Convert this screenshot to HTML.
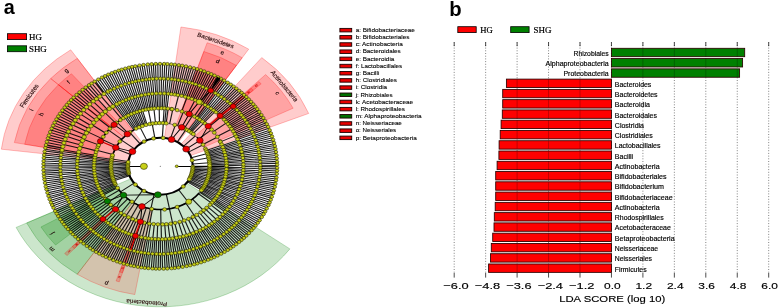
<!DOCTYPE html>
<html><head><meta charset="utf-8"><style>
html,body{margin:0;padding:0;background:#fff;width:778px;height:308px;overflow:hidden}
svg{display:block;will-change:transform}
text{font-family:"Liberation Sans",sans-serif}
.lt{stroke:#000;stroke-width:0.1px}
.lt2{fill:#000;stroke:#000;stroke-width:0.15px}
.serif{font-family:"Liberation Serif",serif;stroke:#000;stroke-width:0.2px}
</style></head><body>
<svg width="778" height="308" viewBox="0 0 778 308">
<defs><filter id="bl" x="-5%" y="-5%" width="110%" height="110%"><feGaussianBlur stdDeviation="0.2"/></filter></defs>
<rect width="778" height="308" fill="#fff"/>
<text x="3.8" y="14.2" font-size="21" font-weight="bold" textLength="11" lengthAdjust="spacingAndGlyphs">a</text>
<text x="449.3" y="15.7" font-size="20.5" font-weight="bold" textLength="12.4" lengthAdjust="spacingAndGlyphs">b</text>
<rect x="7.4" y="33.7" width="19.2" height="5.9" fill="#ff0000" stroke="#000" stroke-width="0.8"/>
<text class="serif" x="29.0" y="39.6" font-size="8.6" textLength="12.8" lengthAdjust="spacingAndGlyphs">HG</text>
<rect x="7.4" y="45.8" width="19.2" height="5.9" fill="#008000" stroke="#000" stroke-width="0.8"/>
<text class="serif" x="29.0" y="51.7" font-size="8.6" textLength="17.8" lengthAdjust="spacingAndGlyphs">SHG</text>
<rect x="457.8" y="26.7" width="18.4" height="5.9" fill="#ff0000" stroke="#000" stroke-width="0.8"/>
<text class="serif" x="480.3" y="32.7" font-size="8.6" textLength="12.5" lengthAdjust="spacingAndGlyphs">HG</text>
<rect x="510.7" y="26.7" width="18.4" height="5.9" fill="#008000" stroke="#000" stroke-width="0.8"/>
<text class="serif" x="533.5" y="32.7" font-size="8.6" textLength="18" lengthAdjust="spacingAndGlyphs">SHG</text>
<g transform="translate(160.3,166.3) scale(1.14,1)">
<path d="M-28.29,-3.47L-139.45,-17.12A140.5,140.5 0 0 1 -78.57,-116.48L-15.94,-23.63A28.5,28.5 0 0 0 -28.29,-3.47Z" fill="#ff0000" fill-opacity="0.2" stroke="#ff0000" stroke-opacity="0.5" stroke-width="0.45"/>
<path d="M-42.57,-7.89L-128.02,-23.73A130.2,130.2 0 0 1 -96.15,-87.79L-31.98,-29.20A43.3,43.3 0 0 0 -42.57,-7.89Z" fill="#ff0000" fill-opacity="0.2" stroke="#ff0000" stroke-opacity="0.5" stroke-width="0.45"/>
<path d="M-57.13,-10.59L-118.97,-22.05A121.0,121.0 0 0 1 -89.35,-81.59L-42.90,-39.18A58.1,58.1 0 0 0 -57.13,-10.59Z" fill="#ff0000" fill-opacity="0.2" stroke="#ff0000" stroke-opacity="0.5" stroke-width="0.45"/>
<path d="M-31.98,-29.20L-96.15,-87.79A130.2,130.2 0 0 1 -72.81,-107.94L-24.21,-35.90A43.3,43.3 0 0 0 -31.98,-29.20Z" fill="#ff0000" fill-opacity="0.2" stroke="#ff0000" stroke-opacity="0.5" stroke-width="0.45"/>
<path d="M-42.90,-39.18L-89.35,-81.59A121.0,121.0 0 0 1 -77.94,-92.56L-37.42,-44.44A58.1,58.1 0 0 0 -42.90,-39.18Z" fill="#ff0000" fill-opacity="0.2" stroke="#ff0000" stroke-opacity="0.5" stroke-width="0.45"/>
<path d="M3.67,-28.26L18.10,-139.33A140.5,140.5 0 0 1 77.55,-117.16L15.73,-23.77A28.5,28.5 0 0 0 3.67,-28.26Z" fill="#ff0000" fill-opacity="0.2" stroke="#ff0000" stroke-opacity="0.5" stroke-width="0.45"/>
<path d="M13.67,-41.09L41.10,-123.54A130.2,130.2 0 0 1 71.86,-108.57L23.90,-36.11A43.3,43.3 0 0 0 13.67,-41.09Z" fill="#ff0000" fill-opacity="0.2" stroke="#ff0000" stroke-opacity="0.5" stroke-width="0.45"/>
<path d="M18.34,-55.13L38.19,-114.81A121.0,121.0 0 0 1 66.78,-100.90L32.07,-48.45A58.1,58.1 0 0 0 18.34,-55.13Z" fill="#ff0000" fill-opacity="0.2" stroke="#ff0000" stroke-opacity="0.5" stroke-width="0.45"/>
<path d="M41.17,-77.43L48.12,-90.50A102.5,102.5 0 0 1 55.07,-86.45L47.12,-73.97A87.7,87.7 0 0 0 41.17,-77.43Z" fill="#ff0000" fill-opacity="0.2" stroke="#ff0000" stroke-opacity="0.5" stroke-width="0.45"/>
<path d="M18.05,-22.05L88.99,-108.72A140.5,140.5 0 0 1 130.18,-52.86L26.41,-10.72A28.5,28.5 0 0 0 18.05,-22.05Z" fill="#ff0000" fill-opacity="0.2" stroke="#ff0000" stroke-opacity="0.5" stroke-width="0.45"/>
<path d="M30.72,-30.51L92.39,-91.74A130.2,130.2 0 0 1 116.52,-58.09L38.75,-19.32A43.3,43.3 0 0 0 30.72,-30.51Z" fill="#ff0000" fill-opacity="0.2" stroke="#ff0000" stroke-opacity="0.5" stroke-width="0.45"/>
<path d="M41.51,-40.65L86.45,-84.66A121.0,121.0 0 0 1 88.49,-82.52L42.49,-39.62A58.1,58.1 0 0 0 41.51,-40.65Z" fill="#ff0000" fill-opacity="0.2" stroke="#ff0000" stroke-opacity="0.5" stroke-width="0.45"/>
<path d="M52.09,-51.01L79.66,-78.01A111.5,111.5 0 0 1 81.55,-76.04L53.32,-49.72A72.9,72.9 0 0 0 52.09,-51.01Z" fill="#ff0000" fill-opacity="0.2" stroke="#ff0000" stroke-opacity="0.5" stroke-width="0.45"/>
<path d="M62.66,-61.36L73.23,-71.72A102.5,102.5 0 0 1 74.96,-69.90L64.14,-59.81A87.7,87.7 0 0 0 62.66,-61.36Z" fill="#ff0000" fill-opacity="0.2" stroke="#ff0000" stroke-opacity="0.5" stroke-width="0.45"/>
<path d="M23.06,16.75L113.67,82.58A140.5,140.5 0 0 1 -126.49,61.15L-25.66,12.40A28.5,28.5 0 0 0 23.06,16.75Z" fill="#008000" fill-opacity="0.2" stroke="#008000" stroke-opacity="0.5" stroke-width="0.45"/>
<path d="M-24.21,35.90L-72.81,107.94A130.2,130.2 0 0 1 -117.22,56.67L-38.98,18.85A43.3,43.3 0 0 0 -24.21,35.90Z" fill="#008000" fill-opacity="0.2" stroke="#008000" stroke-opacity="0.5" stroke-width="0.45"/>
<path d="M-44.11,37.81L-91.87,78.74A121.0,121.0 0 0 1 -104.68,60.68L-50.27,29.14A58.1,58.1 0 0 0 -44.11,37.81Z" fill="#008000" fill-opacity="0.2" stroke="#008000" stroke-opacity="0.5" stroke-width="0.45"/>
<path d="M-39.25,42.84L-81.75,89.21A121.0,121.0 0 0 1 -83.90,87.19L-40.29,41.86A58.1,58.1 0 0 0 -39.25,42.84Z" fill="#ff0000" fill-opacity="0.2" stroke="#ff0000" stroke-opacity="0.5" stroke-width="0.45"/>
<path d="M-49.25,53.75L-75.33,82.21A111.5,111.5 0 0 1 -77.31,80.34L-50.55,52.53A72.9,72.9 0 0 0 -49.25,53.75Z" fill="#ff0000" fill-opacity="0.2" stroke="#ff0000" stroke-opacity="0.5" stroke-width="0.45"/>
<path d="M-7.44,42.66L-22.39,128.26A130.2,130.2 0 0 1 -72.81,107.94L-24.21,35.90A43.3,43.3 0 0 0 -7.44,42.66Z" fill="#ff0000" fill-opacity="0.15" stroke="#ff0000" stroke-opacity="0.5" stroke-width="0.45"/>
<path d="M-17.28,55.47L-35.98,115.53A121.0,121.0 0 0 1 -38.79,114.61L-18.63,55.03A58.1,58.1 0 0 0 -17.28,55.47Z" fill="#ff0000" fill-opacity="0.2" stroke="#ff0000" stroke-opacity="0.5" stroke-width="0.45"/>
<path d="M-21.68,69.60L-33.16,106.46A111.5,111.5 0 0 1 -35.75,105.61L-23.37,69.05A72.9,72.9 0 0 0 -21.68,69.60Z" fill="#ff0000" fill-opacity="0.2" stroke="#ff0000" stroke-opacity="0.5" stroke-width="0.45"/>
<g filter="url(#bl)">
<path d="M87.70,0.54L102.50,0.58M87.67,2.21L102.47,2.57M87.62,3.82L102.40,4.63M87.52,5.55L102.28,6.66M87.40,7.26L102.14,8.64M87.24,9.02L101.95,10.57M87.04,10.75L101.71,12.70M86.80,12.50L101.46,14.57M86.53,14.31L101.13,16.69M86.22,16.02L100.81,18.56M85.91,17.61L100.44,20.46M85.59,19.11L100.01,22.46M85.20,20.80L99.56,24.38M84.75,22.54L99.03,26.46M84.27,24.29L98.50,28.34M83.80,25.87L97.94,30.22M83.34,27.31L97.35,32.07M82.72,29.14L96.70,34.00M82.16,30.68L96.00,35.92M81.52,32.35L95.27,37.82M80.85,33.98L94.53,39.62M80.21,35.47L93.71,41.54M79.47,37.09L92.89,43.34M78.68,38.73L92.00,45.20M77.92,40.24L91.15,46.88M77.22,41.58L90.23,48.63M76.37,43.11L89.20,50.49M75.56,44.52L88.22,52.18M74.54,46.21L87.17,53.92M73.61,47.67L86.11,55.60M72.72,49.02L85.03,57.23M71.74,50.44L83.87,58.93M70.71,51.88L82.72,60.53M69.70,53.23L81.46,62.22M68.76,54.44L80.26,63.75M67.56,55.92L78.99,65.32M66.39,57.31L77.66,66.89M65.42,58.40L76.44,68.29M64.30,59.64L75.03,69.83M63.12,60.89L73.68,71.25M61.98,62.05L72.33,72.63M60.66,63.34L70.80,74.12M59.42,64.51L69.41,75.42M58.13,65.66L67.83,76.84M56.79,66.83L66.38,78.10M55.35,68.03L64.78,79.44M54.14,68.99L63.21,80.69M52.82,70.01L61.70,81.85M51.23,71.18L60.01,83.10M50.13,71.96L58.49,84.17M48.69,72.94L56.82,85.31M47.12,73.96L55.10,86.43M45.85,74.76L53.44,87.47M44.26,75.71L51.69,88.51M42.60,76.66L49.93,89.52M41.19,77.43L48.15,90.49M39.64,78.23L46.38,91.41M38.12,78.98L44.69,92.25M36.47,79.76L42.74,93.16M35.03,80.40L40.91,93.98M33.60,81.01L39.14,94.73M31.99,81.66L37.24,95.50M30.43,82.25L35.47,96.17M28.77,82.85L33.57,96.85M27.26,83.36L31.69,97.48M25.58,83.89L29.76,98.09M23.92,84.38L27.79,98.66M22.01,84.89L25.76,99.21M20.57,85.25L23.96,99.66M18.83,85.65L21.97,100.12M17.05,86.03L20.05,100.52M15.33,86.35L17.91,100.92M13.84,86.60L16.03,101.24M12.13,86.86L14.13,101.52M10.26,87.10L12.11,101.78M8.82,87.26L10.14,102.00M6.82,87.43L7.98,102.19M5.24,87.54L6.14,102.32M3.56,87.63L4.17,102.42M1.58,87.69L1.97,102.48M0.10,87.70L0.03,102.50M-1.53,87.69L-1.91,102.48M-3.43,87.63L-3.99,102.42M-5.08,87.55L-6.00,102.32M-6.84,87.43L-7.88,102.20M-8.69,87.27L-10.03,102.01M-10.35,87.09L-11.99,101.80M-11.86,86.89L-13.96,101.54M-13.56,86.65L-15.90,101.26M-15.07,86.40L-17.78,100.95M-16.87,86.06L-19.80,100.57M-18.83,85.66L-21.84,100.15M-20.45,85.28L-23.75,99.71M-22.21,84.84L-25.80,99.20M-23.54,84.48L-27.61,98.71M-25.16,84.01L-29.51,98.16M-26.92,83.47L-31.42,97.57M-28.72,82.86L-33.45,96.89M-30.21,82.33L-35.26,96.24M-31.70,81.77L-37.19,95.51M-33.51,81.05L-39.03,94.78M-35.06,80.39L-40.90,93.99M-36.42,79.78L-42.67,93.20M-38.06,79.01L-44.54,92.32M-39.78,78.16L-46.34,91.43M-41.08,77.48L-48.04,90.54M-42.76,76.57L-49.90,89.53M-43.97,75.88L-51.51,88.62M-45.65,74.88L-53.23,87.60M-47.00,74.04L-55.04,86.47M-48.65,72.97L-56.72,85.38M-49.89,72.13L-58.35,84.27M-51.22,71.19L-59.97,83.13M-52.73,70.07L-61.50,82.00M-54.07,69.05L-63.19,80.71M-55.43,67.96L-64.80,79.42M-56.83,66.80L-66.33,78.15M-57.91,65.86L-67.74,76.92M-59.19,64.71L-69.25,75.57M-60.48,63.51L-70.75,74.16M-61.67,62.36L-72.17,72.79M-62.98,61.03L-73.64,71.29M-64.16,59.79L-74.96,69.91M-65.33,58.51L-76.37,68.36M-66.48,57.20L-77.70,66.85M-67.55,55.94L-78.94,65.38M-68.56,54.69L-80.14,63.91M-69.55,53.43L-81.39,62.30M-70.67,51.93L-82.67,60.60M-71.74,50.45L-83.80,59.03M-72.65,49.12L-84.95,57.36M-73.63,47.64L-86.05,55.70M-74.50,46.27L-87.15,53.96M-75.39,44.80L-88.16,52.29M-76.31,43.22L-89.14,50.60M-77.13,41.74L-90.13,48.81M-78.00,40.10L-91.09,46.99M-78.70,38.69L-91.97,45.26M-79.44,37.17L-92.84,43.44M-80.15,35.59L-93.69,41.59M-80.82,34.04L-94.47,39.78M-81.53,32.32L-95.26,37.85M-82.16,30.67L-95.97,35.99M-82.67,29.26L-96.62,34.22M-83.29,27.45L-97.31,32.20M-83.71,26.16L-97.87,30.44M-84.21,24.48L-98.47,28.47M-84.67,22.86L-99.00,26.57M-85.17,20.92L-99.52,24.55M-85.53,19.40L-99.99,22.56M-85.91,17.61L-100.40,20.63M-86.24,15.95L-100.76,18.78M-86.52,14.33L-101.14,16.64M-86.79,12.58L-101.45,14.67M-87.03,10.78L-101.70,12.77M-87.21,9.27L-101.94,10.71M-87.38,7.52L-102.12,8.80M-87.50,5.93L-102.27,6.82M-87.61,4.06L-102.39,4.82M-87.67,2.45L-102.46,2.88M-87.70,0.83L-102.50,0.79M-87.69,-1.05L-102.49,-1.19M-87.66,-2.63L-102.45,-3.23M-87.58,-4.64L-102.36,-5.32M-87.48,-6.14L-102.24,-7.32M-87.36,-7.71L-102.09,-9.18M-87.18,-9.58L-101.88,-11.27M-86.98,-11.21L-101.66,-13.13M-86.71,-13.16L-101.36,-15.27M-86.49,-14.54L-101.06,-17.12M-86.14,-16.47L-100.68,-19.22M-85.84,-17.97L-100.30,-21.14M-85.75,-18.38L-100.22,-21.50M-85.26,-20.56L-99.68,-23.88M-84.69,-22.79L-99.01,-26.53M-84.11,-24.83L-98.34,-28.89M-83.46,-26.95L-97.58,-31.37M-82.77,-28.98L-96.72,-33.92M-81.94,-31.25L-95.83,-36.38M-81.24,-33.03L-94.90,-38.73M-80.34,-35.16L-93.86,-41.18M-79.48,-37.08L-92.84,-43.44M-78.51,-39.07L-91.72,-45.76M-77.46,-41.13L-90.50,-48.13M-76.35,-43.16L-89.19,-50.51M-75.28,-45.00L-87.92,-52.69M-74.16,-46.82L-86.58,-54.86M-72.96,-48.66L-85.18,-57.02M-71.55,-50.71L-83.64,-59.26M-70.33,-52.39L-82.19,-61.24M-68.95,-54.20L-80.50,-63.45M-67.51,-55.98L-78.89,-65.45M-66.04,-57.71L-77.26,-67.36M-64.64,-59.27L-75.55,-69.27M-62.97,-61.04L-73.72,-71.22M-61.49,-62.53L-71.96,-73.00M-59.88,-64.08L-70.02,-74.86M-58.35,-65.47L-68.16,-76.55M-56.79,-66.83L-66.27,-78.20M-54.93,-68.37L-64.27,-79.85M-53.29,-69.65L-62.19,-81.48M-51.37,-71.08L-60.14,-83.00M-49.46,-72.42L-57.85,-84.61M-48.73,-72.92L-56.89,-85.26M-47.30,-73.85L-55.18,-86.38M-45.82,-74.78L-53.48,-87.44M-44.09,-75.81L-51.67,-88.52M-42.85,-76.52L-50.00,-89.48M-41.27,-77.38L-48.17,-90.48M-39.92,-78.09L-46.50,-91.34M-38.26,-78.92L-44.70,-92.24M-36.76,-79.62L-42.87,-93.10M-35.25,-80.30L-41.04,-93.92M-33.69,-80.97L-39.24,-94.69M-32.10,-81.62L-37.36,-95.45M-30.48,-82.23L-35.56,-96.14M-28.75,-82.85L-33.63,-96.83M-27.03,-83.43L-31.68,-97.48M-25.38,-83.95L-29.74,-98.09M-23.80,-84.41L-27.77,-98.67M-22.06,-84.88L-25.95,-99.16M-20.50,-85.27L-24.04,-99.64M-18.95,-85.63L-21.99,-100.11M-16.99,-86.04L-19.99,-100.53M-15.38,-86.34L-18.06,-100.90M-13.84,-86.60L-16.05,-101.24M-12.09,-86.86L-14.13,-101.52M-10.24,-87.10L-12.08,-101.79M-8.61,-87.28L-10.09,-102.00M-6.86,-87.43L-8.08,-102.18M-5.32,-87.54L-6.12,-102.32M-3.75,-87.62L-4.25,-102.41M-1.99,-87.68L-2.18,-102.48M-0.05,-87.70L-0.08,-102.50M1.65,-87.68L1.88,-102.48M3.33,-87.64L3.89,-102.43M5.02,-87.56L5.76,-102.34M6.77,-87.44L7.91,-102.19M8.48,-87.29L9.86,-102.02M10.13,-87.11L11.76,-101.82M11.66,-86.92L13.78,-101.57M13.56,-86.65L15.77,-101.28M15.25,-86.36L17.73,-100.95M16.99,-86.04L19.85,-100.56M18.56,-85.71L21.70,-100.18M20.37,-85.30L23.71,-99.72M21.98,-84.90L25.64,-99.24M23.40,-84.52L27.48,-98.75M25.26,-83.98L29.43,-98.18M26.85,-83.49L31.36,-97.59M28.28,-83.01L33.20,-96.97M30.12,-82.37L35.14,-96.29M31.79,-81.74L37.10,-95.55M33.27,-81.14L38.88,-94.84M34.87,-80.47L40.76,-94.05M36.50,-79.75L42.53,-93.26M38.08,-79.00L44.36,-92.41M39.47,-78.32L46.29,-91.45M41.14,-77.45L47.98,-90.58M42.62,-76.65L49.83,-89.57M43.95,-75.90L51.45,-88.65M45.52,-74.96L53.29,-87.56M46.91,-74.10L54.93,-86.54M48.54,-73.04L56.60,-85.46M49.87,-72.14L58.20,-84.38M51.34,-71.10L59.90,-83.18M52.59,-70.18L61.54,-81.97M54.04,-69.07L63.16,-80.73M55.15,-68.19L64.59,-79.59M56.64,-66.96L66.21,-78.25M57.84,-65.92L67.70,-76.96M59.16,-64.74L69.19,-75.62M60.41,-63.58L70.73,-74.19M61.81,-62.22L72.15,-72.80M62.96,-61.06L73.47,-71.47M64.20,-59.74L74.94,-69.93M65.20,-58.65L76.23,-68.52M66.47,-57.21L77.57,-67.00M67.47,-56.02L78.89,-65.44M68.52,-54.73L80.14,-63.91M69.51,-53.48L81.32,-62.39M70.65,-51.96L82.62,-60.66M71.66,-50.56L83.80,-59.02M72.61,-49.18L84.87,-57.48M73.53,-47.80L85.96,-55.82M74.60,-46.11L87.12,-54.00M75.44,-44.73L88.14,-52.31M76.35,-43.15L89.16,-50.56M77.12,-41.76L90.10,-48.88M77.88,-40.32L90.99,-47.19M78.69,-38.72L91.93,-45.33M79.39,-37.27L92.81,-43.49M80.14,-35.63L93.60,-41.78M80.77,-34.17L94.40,-39.93M81.42,-32.60L95.18,-38.03M82.13,-30.75L95.94,-36.09M82.66,-29.30L96.59,-34.30M83.21,-27.70L97.24,-32.40M83.70,-26.17L97.87,-30.47M84.19,-24.56L98.43,-28.60M84.71,-22.70L99.01,-26.53M85.14,-21.03L99.47,-24.72M85.53,-19.37L99.97,-22.62M85.85,-17.91L100.36,-20.83M86.19,-16.20L100.75,-18.87M86.49,-14.54L101.10,-16.90M86.77,-12.72L101.41,-14.89M87.03,-10.86L101.70,-12.78M87.20,-9.34L101.92,-10.88M87.37,-7.62L102.12,-8.86M87.49,-6.04L102.27,-6.90M87.61,-4.06L102.38,-4.92M87.66,-2.52L102.46,-2.94M87.70,-0.61L102.50,-0.84" stroke="#000" stroke-opacity="0.88" stroke-width="1.05" fill="none"/>
<path d="M72.90,0.25L87.70,0.38M72.87,1.95L87.67,2.36M72.80,3.77L87.59,4.43M72.72,5.17L87.47,6.37M72.58,6.83L87.32,8.16M72.40,8.53L87.10,10.27M72.21,9.98L86.85,12.16M71.94,11.79L86.57,14.06M71.65,13.45L86.22,16.07M71.36,14.92L85.83,18.02M71.04,16.35L85.44,19.77M70.61,18.12L84.96,21.75M70.17,19.77L84.43,23.72M69.72,21.30L83.90,25.55M69.25,22.77L83.32,27.38M68.73,24.30L82.71,29.16M68.15,25.89L82.03,31.03M67.58,27.33L81.28,32.93M67.00,28.74L80.57,34.65M66.25,30.41L79.73,36.53M65.67,31.66L78.94,38.21M64.85,33.30L78.03,40.03M64.15,34.64L77.13,41.74M63.37,36.04L76.16,43.49M62.51,37.51L75.20,45.13M61.58,39.02L74.10,46.91M60.72,40.34L73.04,48.54M59.90,41.55L72.01,50.05M58.82,43.07L70.79,51.77M58.01,44.15L69.70,53.23M56.88,45.59L68.47,54.81M55.93,46.76L67.24,56.31M54.73,48.16L65.93,57.83M53.84,49.15L64.68,59.23M52.65,50.42L63.32,60.67M51.51,51.58L61.91,62.12M50.23,52.83L60.49,63.50M49.18,53.81L59.09,64.80M47.89,54.97L57.56,66.16M46.68,55.99L56.09,67.42M45.39,57.05L54.67,68.58M44.05,58.08L53.11,69.79M42.88,58.96L51.50,70.98M41.54,59.91L49.95,72.09M40.02,60.94L48.25,73.23M38.84,61.69L46.69,74.24M37.31,62.63L45.01,75.27M36.12,63.32L43.33,76.25M34.63,64.15L41.63,77.19M32.96,65.03L39.75,78.17M31.49,65.75L38.02,79.03M30.14,66.38L36.21,79.87M28.62,67.05L34.55,80.61M27.24,67.62L32.64,81.40M25.66,68.24L30.83,82.10M24.18,68.77L29.04,82.75M22.75,69.26L27.23,83.37M21.10,69.78L25.34,83.96M19.48,70.25L23.33,84.54M17.89,70.67L21.43,85.04M16.25,71.07L19.64,85.47M14.68,71.41L17.64,85.91M13.19,71.70L15.86,86.25M11.42,72.00L13.87,86.60M9.98,72.21L11.97,86.88M8.34,72.42L9.89,87.14M6.60,72.60L8.03,87.33M5.11,72.72L6.01,87.49M3.60,72.81L4.20,87.60M1.78,72.88L2.07,87.68M0.02,72.90L0.14,87.70M-1.39,72.89L-1.74,87.68M-3.20,72.83L-3.82,87.62M-4.74,72.75L-5.64,87.52M-6.26,72.63L-7.60,87.37M-7.95,72.46L-9.49,87.18M-9.69,72.25L-11.61,86.93M-11.15,72.04L-13.56,86.65M-12.76,71.78L-15.35,86.35M-14.59,71.42L-17.42,85.95M-15.92,71.14L-19.22,85.57M-17.57,70.75L-21.14,85.11M-19.15,70.34L-23.13,84.60M-20.83,69.86L-24.99,84.06M-22.40,69.37L-26.86,83.48M-23.80,68.91L-28.68,82.88M-25.30,68.37L-30.47,82.24M-26.82,67.79L-32.39,81.50M-28.40,67.14L-34.09,80.80M-29.74,66.56L-35.90,80.02M-31.30,65.84L-37.64,79.21M-32.90,65.05L-39.45,78.33M-34.43,64.26L-41.29,77.37M-35.57,63.63L-42.90,76.49M-37.05,62.78L-44.57,75.53M-38.52,61.89L-46.35,74.45M-39.82,61.07L-47.92,73.45M-41.28,60.09L-49.61,72.32M-42.66,59.11L-51.24,71.18M-43.81,58.27L-52.80,70.02M-45.16,57.23L-54.38,68.81M-46.41,56.22L-55.86,67.61M-47.64,55.18L-57.38,66.32M-48.81,54.15L-58.78,65.09M-50.12,52.94L-60.20,63.77M-51.23,51.86L-61.67,62.35M-52.48,50.60L-63.03,60.98M-53.47,49.55L-64.39,59.55M-54.67,48.22L-65.74,58.05M-55.66,47.07L-67.04,56.54M-56.76,45.74L-68.23,55.10M-57.82,44.40L-69.48,53.51M-58.63,43.33L-70.57,52.07M-59.57,42.02L-71.72,50.47M-60.63,40.48L-72.93,48.71M-61.49,39.16L-73.99,47.08M-62.35,37.77L-75.02,45.43M-63.17,36.38L-75.95,43.84M-63.94,35.01L-76.98,42.02M-64.74,33.51L-77.87,40.35M-65.42,32.17L-78.72,38.66M-66.10,30.75L-79.55,36.91M-66.82,29.16L-80.37,35.10M-67.44,27.69L-81.16,33.23M-68.01,26.24L-81.84,31.52M-68.61,24.65L-82.57,29.56M-69.12,23.16L-83.18,27.78M-69.67,21.46L-83.81,25.83M-70.07,20.12L-84.33,24.08M-70.54,18.38L-84.86,22.13M-70.92,16.88L-85.35,20.18M-71.29,15.22L-85.76,18.36M-71.60,13.68L-86.15,16.40M-71.92,11.93L-86.50,14.49M-72.15,10.42L-86.80,12.55M-72.36,8.83L-87.06,10.60M-72.56,6.98L-87.28,8.55M-72.68,5.65L-87.44,6.70M-72.79,3.96L-87.58,4.67M-72.86,2.27L-87.65,2.86M-72.90,0.60L-87.70,0.82M-72.89,-1.04L-87.69,-1.14M-72.86,-2.50L-87.64,-3.11M-72.78,-4.15L-87.56,-4.98M-72.66,-5.97L-87.42,-7.06M-72.52,-7.43L-87.25,-8.90M-72.33,-9.06L-87.02,-10.90M-72.13,-10.58L-86.76,-12.80M-71.84,-12.41L-86.44,-14.81M-71.57,-13.84L-86.10,-16.65M-70.63,-18.04L-84.95,-21.79M-69.70,-21.36L-83.89,-25.57M-68.51,-24.91L-82.42,-29.98M-67.30,-28.03L-81.01,-33.60M-65.80,-31.39L-79.21,-37.65M-64.16,-34.62L-77.23,-41.56M-62.48,-37.56L-75.21,-45.11M-60.61,-40.51L-72.90,-48.76M-58.36,-43.69L-70.27,-52.47M-56.41,-46.18L-67.80,-55.62M-53.98,-49.00L-64.94,-58.94M-51.60,-51.50L-61.99,-62.04M-48.94,-54.03L-58.93,-64.95M-46.20,-56.39L-55.47,-67.93M-43.34,-58.62L-52.20,-70.47M-40.75,-60.45L-48.92,-72.79M-39.33,-61.38L-47.33,-73.83M-38.00,-62.21L-45.66,-74.88M-36.57,-63.07L-44.01,-75.86M-35.13,-63.88L-42.30,-76.82M-33.74,-64.62L-40.57,-77.75M-32.31,-65.35L-38.90,-78.60M-30.86,-66.05L-37.05,-79.49M-29.21,-66.79L-35.22,-80.32M-27.90,-67.35L-33.47,-81.06M-26.40,-67.95L-31.65,-81.79M-24.85,-68.53L-29.88,-82.45M-23.32,-69.07L-28.04,-83.10M-21.80,-69.56L-26.09,-83.73M-20.21,-70.04L-24.19,-84.30M-18.46,-70.52L-22.29,-84.82M-17.09,-70.87L-20.43,-85.29M-15.42,-71.25L-18.52,-85.72M-13.82,-71.58L-16.51,-86.13M-12.01,-71.90L-14.60,-86.48M-10.47,-72.14L-12.69,-86.78M-8.90,-72.35L-10.86,-87.03M-7.24,-72.54L-8.85,-87.25M-5.75,-72.67L-6.82,-87.43M-3.95,-72.79L-4.89,-87.56M-2.59,-72.85L-3.07,-87.65M-0.90,-72.89L-0.98,-87.69M0.78,-72.90L1.01,-87.69M2.36,-72.86L2.95,-87.65M4.14,-72.78L4.85,-87.57M5.55,-72.69L6.75,-87.44M7.23,-72.54L8.76,-87.26M8.74,-72.37L10.61,-87.06M10.56,-72.13L12.58,-86.79M12.25,-71.86L14.61,-86.47M13.74,-71.59L16.44,-86.14M15.26,-71.28L18.35,-85.76M16.89,-70.92L20.36,-85.30M18.56,-70.50L22.31,-84.82M20.16,-70.06L24.14,-84.31M21.67,-69.60L25.93,-83.78M23.16,-69.12L27.89,-83.15M24.69,-68.59L29.77,-82.49M26.32,-67.98L31.65,-81.79M27.78,-67.40L33.35,-81.11M29.16,-66.81L35.17,-80.34M30.66,-66.14L37.01,-79.51M32.19,-65.41L38.79,-78.66M33.78,-64.60L40.50,-77.79M35.13,-63.88L42.22,-76.87M36.37,-63.18L43.88,-75.93M37.76,-62.36L45.52,-74.96M39.29,-61.41L47.28,-73.86M40.73,-60.46L48.90,-72.80M41.88,-59.67L50.46,-71.73M43.23,-58.70L52.13,-70.53M44.52,-57.73L53.59,-69.42M45.81,-56.71L55.14,-68.20M47.12,-55.62L56.67,-66.93M48.33,-54.58L58.20,-65.60M49.59,-53.44L59.66,-64.28M50.80,-52.29L61.01,-63.00M51.82,-51.27L62.42,-61.60M53.02,-50.03L63.76,-60.22M54.24,-48.71L65.19,-58.66M55.18,-47.64L66.42,-57.26M56.25,-46.37L67.64,-55.82M57.28,-45.10L68.94,-54.21M58.29,-43.77L70.14,-52.65M59.33,-42.36L71.33,-51.02M60.22,-41.08L72.38,-49.53M61.05,-39.84L73.44,-47.93M61.92,-38.48L74.53,-46.22M62.81,-37.01L75.51,-44.60M63.58,-35.66L76.49,-42.91M64.39,-34.19L77.51,-41.03M65.13,-32.74L78.34,-39.42M65.87,-31.23L79.23,-37.60M66.53,-29.81L80.07,-35.77M67.16,-28.36L80.81,-34.06M67.81,-26.75L81.54,-32.30M68.42,-25.16L82.29,-30.33M68.93,-23.72L82.89,-28.63M69.45,-22.15L83.56,-26.63M69.93,-20.59L84.13,-24.76M70.33,-19.19L84.64,-22.97M70.74,-17.63L85.13,-21.08M71.15,-15.86L85.58,-19.15M71.51,-14.18L86.00,-17.16M71.78,-12.72L86.37,-15.24M72.05,-11.10L86.68,-13.33M72.29,-9.43L86.96,-11.35M72.47,-7.86L87.18,-9.50M72.63,-6.24L87.39,-7.42M72.75,-4.68L87.53,-5.48M72.83,-3.10L87.62,-3.64M72.89,-1.21L87.69,-1.59" stroke="#000" stroke-opacity="0.88" stroke-width="1.05" fill="none"/>
<path d="M58.09,1.07L72.89,1.25M58.05,2.31L72.84,2.97M57.97,3.84L72.74,4.78M57.87,5.18L72.61,6.46M57.73,6.54L72.44,8.22M57.56,7.93L72.22,9.90M57.36,9.23L71.97,11.60M57.13,10.59L71.68,13.27M56.89,11.81L71.36,14.88M56.59,13.16L70.98,16.61M56.25,14.54L70.56,18.33M55.93,15.74L70.15,19.84M55.49,17.21L69.62,21.64M55.12,18.35L69.13,23.14M54.64,19.76L68.57,24.75M54.13,21.12L67.93,26.45M53.66,22.28L67.28,28.06M53.10,23.58L66.61,29.62M52.48,24.93L65.88,31.21M51.94,26.04L65.12,32.77M51.23,27.40L64.33,34.29M50.65,28.47L63.50,35.81M50.01,29.57L62.70,37.18M49.24,30.84L61.83,38.63M48.46,32.05L60.83,40.18M47.69,33.18L59.86,41.61M47.00,34.15L58.92,42.93M46.12,35.33L57.91,44.28M45.32,36.35L56.84,45.65M43.80,38.18L54.91,47.95M41.62,40.54L52.26,50.83M39.48,42.63L49.50,53.52M37.03,44.77L46.46,56.18M34.64,46.64L43.49,58.51M32.39,48.23L40.63,60.53M29.66,49.96L37.27,62.65M27.04,51.43L33.97,64.50M24.35,52.75L30.48,66.22M21.48,53.98L26.86,67.77M18.63,55.03L23.29,69.08M15.95,55.87L19.95,70.12M12.63,56.71L15.96,71.13M9.97,57.24L12.51,71.82M6.75,57.71L8.54,72.40M3.88,57.97L4.86,72.74M0.72,58.10L0.99,72.89M-2.32,58.05L-2.80,72.85M-5.21,57.87L-6.62,72.60M-8.42,57.49L-10.56,72.13M-10.28,57.18L-13.00,71.73M-12.62,56.71L-15.78,71.17M-14.77,56.19L-18.51,70.51M-16.78,55.62L-21.08,69.78M-19.01,54.90L-23.76,68.92M-21.04,54.16L-26.30,67.99M-22.96,53.37L-28.88,66.94M-25.17,52.37L-31.49,65.75M-27.11,51.39L-34.05,64.46M-29.11,50.28L-36.59,63.05M-30.99,49.14L-38.88,61.66M-32.95,47.85L-41.29,60.08M-34.68,46.62L-43.54,58.47M-36.35,45.32L-45.68,56.81M-38.23,43.75L-47.94,54.92M-39.79,42.33L-49.99,53.06M-41.43,40.74L-51.93,51.16M-42.89,39.19L-53.88,49.10M-44.45,37.42L-55.71,47.02M-45.73,35.83L-57.43,44.90M-47.15,33.95L-59.13,42.65M-48.42,32.11L-60.80,40.22M-49.55,30.34L-62.20,38.02M-50.51,28.72L-63.41,35.96M-51.16,27.54L-64.23,34.49M-51.88,26.15L-65.07,32.86M-52.45,24.99L-65.76,31.46M-52.98,23.85L-66.49,29.90M-53.61,22.41L-67.23,28.18M-54.08,21.24L-67.86,26.63M-54.55,19.99L-68.44,25.11M-54.98,18.79L-69.01,23.51M-55.41,17.49L-69.55,21.83M-55.85,16.03L-70.05,20.18M-56.20,14.73L-70.52,18.48M-56.53,13.41L-70.93,16.82M-56.82,12.12L-71.29,15.23M-57.10,10.71L-71.64,13.50M-57.34,9.36L-71.95,11.72M-57.55,7.98L-72.20,10.08M-57.71,6.75L-72.41,8.40M-57.87,5.22L-72.60,6.64M-57.97,3.88L-72.73,4.92M-58.05,2.51L-72.83,3.19M-58.09,1.22L-72.88,1.51M-58.10,-0.14L-72.90,-0.15M-58.08,-1.44L-72.88,-1.83M-58.02,-2.96L-72.81,-3.66M-57.95,-4.21L-72.70,-5.35M-57.83,-5.59L-72.56,-7.03M-57.68,-6.97L-72.37,-8.77M-57.48,-8.44L-72.14,-10.48M-57.29,-9.67L-71.89,-12.09M-57.04,-11.04L-71.57,-13.88M-56.01,-15.43L-70.25,-19.47M-54.00,-21.43L-67.73,-26.97M-51.08,-27.68L-64.15,-34.64M-47.81,-33.01L-59.94,-41.50M-43.69,-38.30L-54.82,-48.05M-39.01,-43.06L-48.94,-54.03M-33.87,-47.21L-42.57,-59.18M-31.83,-48.61L-40.03,-60.92M-30.74,-49.30L-38.61,-61.83M-29.54,-50.03L-37.12,-62.74M-28.34,-50.72L-35.67,-63.58M-27.28,-51.30L-34.13,-64.42M-26.01,-51.95L-32.61,-65.20M-24.81,-52.54L-31.11,-65.93M-23.46,-53.15L-29.48,-66.67M-22.29,-53.65L-27.92,-67.34M-20.95,-54.19L-26.34,-67.97M-19.61,-54.69L-24.62,-68.62M-18.36,-55.12L-23.11,-69.14M-17.15,-55.51L-21.45,-69.67M-15.76,-55.92L-19.84,-70.15M-14.38,-56.29L-18.07,-70.62M-13.11,-56.60L-16.46,-71.02M-11.72,-56.91L-14.82,-71.38M-10.43,-57.16L-13.12,-71.71M-8.98,-57.40L-11.34,-72.01M-7.78,-57.58L-9.70,-72.25M-6.44,-57.74L-7.99,-72.46M-4.99,-57.89L-6.23,-72.63M-3.64,-57.99L-4.51,-72.76M-2.34,-58.05L-2.88,-72.84M-0.98,-58.09L-1.15,-72.89M0.44,-58.10L0.49,-72.90M1.75,-58.07L2.26,-72.87M3.17,-58.01L3.98,-72.79M4.58,-57.92L5.71,-72.68M5.92,-57.80L7.46,-72.52M12.77,-56.68L16.13,-71.09M18.77,-54.98L23.46,-69.02M24.25,-52.80L30.51,-66.21M29.75,-49.91L37.30,-62.64M31.68,-48.70L39.66,-61.17M32.78,-47.97L41.18,-60.16M33.82,-47.24L42.51,-59.23M35.04,-46.35L43.91,-58.19M36.03,-45.58L45.28,-57.13M37.26,-44.58L46.69,-55.99M38.32,-43.67L48.06,-54.82M42.64,-39.47L53.47,-49.55M46.58,-34.72L58.41,-43.62M49.88,-29.79L62.63,-37.32M52.71,-24.44L66.14,-30.67M54.27,-20.76L68.05,-26.13M54.70,-19.57L68.66,-24.50M55.13,-18.35L69.20,-22.93M55.55,-17.02L69.73,-21.25M55.94,-15.70L70.21,-19.61M56.31,-14.30L70.66,-17.94M56.65,-12.89L71.06,-16.27M56.92,-11.63L71.41,-14.68M57.18,-10.28L71.75,-12.91M57.42,-8.85L72.04,-11.19M57.60,-7.62L72.27,-9.53M57.76,-6.25L72.49,-7.73M57.90,-4.81L72.65,-6.07M57.99,-3.54L72.76,-4.47M58.07,-2.01L72.85,-2.64M58.10,-0.68L72.89,-0.98" stroke="#000" stroke-opacity="0.88" stroke-width="1.05" fill="none"/>
<path d="M43.30,0.64L58.09,0.77M43.27,1.69L58.06,2.23M43.21,2.83L57.97,3.84M43.12,3.99L57.85,5.39M43.00,5.10L57.70,6.84M42.85,6.21L57.49,8.39M42.68,7.33L57.26,9.85M42.45,8.51L56.98,11.36M42.22,9.59L56.67,12.81M41.97,10.66L56.31,14.30M41.68,11.74L55.92,15.75M41.33,12.93L55.46,17.31M41.00,13.94L55.00,18.73M40.64,14.95L54.51,20.10M40.20,16.08L53.95,21.56M39.79,17.07L53.36,22.99M39.28,18.21L52.74,24.37M38.86,19.11L52.10,25.72M38.36,20.09L51.42,27.04M37.76,21.19L50.71,28.36M37.19,22.18L49.91,29.73M36.56,23.20L49.10,31.05M35.98,24.09L48.29,32.31M35.33,25.04L47.43,33.56M34.66,25.95L46.53,34.79M33.52,27.42L44.97,36.79M28.23,32.83L37.82,44.11M22.49,37.00L30.09,49.70M15.18,40.55L20.44,54.38M8.07,42.54L10.81,57.09M0.37,43.30L0.56,58.10M-6.88,42.75L-9.28,57.35M-8.58,42.44L-11.55,56.94M-12.30,41.52L-16.48,55.71M-15.97,40.25L-21.51,53.97M-19.29,38.77L-25.96,51.98M-22.55,36.97L-30.20,49.63M-25.84,34.75L-34.60,46.68M-28.63,32.49L-38.49,43.53M-31.39,29.82L-42.11,40.03M-34.04,26.76L-45.61,35.99M-36.10,23.91L-48.45,32.07M-37.54,21.57L-50.40,28.90M-38.05,20.66L-51.11,27.63M-38.62,19.58L-51.80,26.31M-39.14,18.51L-52.48,24.92M-39.61,17.50L-53.11,23.55M-40.00,16.57L-53.72,22.14M-40.46,15.42L-54.31,20.65M-40.85,14.36L-54.83,19.21M-41.21,13.28L-55.28,17.87M-41.57,12.11L-55.76,16.32M-41.84,11.13L-56.17,14.85M-42.14,9.95L-56.54,13.39M-42.39,8.83L-56.86,11.93M-42.60,7.74L-57.15,10.47M-42.78,6.71L-57.41,8.90M-42.94,5.57L-57.61,7.50M-43.07,4.44L-57.80,5.87M-43.18,3.27L-57.93,4.43M-43.25,2.13L-58.03,2.94M-43.29,1.09L-58.08,1.37M-43.30,-0.11L-58.10,-0.14M-43.28,-1.27L-58.08,-1.67M-43.23,-2.39L-58.01,-3.14M-43.16,-3.52L-57.91,-4.69M-43.05,-4.64L-57.76,-6.25M-42.91,-5.80L-57.58,-7.72M-42.73,-6.98L-57.35,-9.31M-41.64,-11.88L-55.85,-16.02M-38.30,-20.19L-51.41,-27.06M-33.86,-26.99L-45.41,-36.24M-28.15,-32.90L-37.85,-44.08M-23.33,-36.47L-31.28,-48.96M-22.19,-37.18L-29.84,-49.85M-21.11,-37.81L-28.35,-50.71M-19.92,-38.45L-26.80,-51.55M-18.83,-38.99L-25.23,-52.34M-17.76,-39.49L-23.79,-53.01M-16.49,-40.04L-22.14,-53.72M-15.20,-40.54L-20.47,-54.37M-14.10,-40.94L-18.98,-54.91M-12.78,-41.37L-17.21,-55.49M-11.66,-41.70L-15.60,-55.97M-7.93,-42.57L-10.68,-57.11M-4.20,-43.10L-5.61,-57.83M-0.71,-43.29L-0.96,-58.09M2.53,-43.23L3.35,-58.00M3.83,-43.13L5.19,-57.87M5.13,-42.99L6.85,-57.69M8.17,-42.52L11.01,-57.05M15.14,-40.57L20.27,-54.45M21.04,-37.85L28.30,-50.74M24.34,-35.81L32.70,-48.02M25.33,-35.12L33.92,-47.17M26.22,-34.46L35.18,-46.24M27.09,-33.78L36.33,-45.34M28.61,-32.50L38.44,-43.56M33.58,-27.33L45.08,-36.66M37.40,-21.82L50.19,-29.26M40.34,-15.74L54.16,-21.04M40.81,-14.47L54.77,-19.39M41.18,-13.39L55.25,-17.99M41.54,-12.22L55.76,-16.33M41.87,-11.05L56.18,-14.80M42.14,-9.94L56.57,-13.24M42.42,-8.67L56.90,-11.73M42.65,-7.46L57.23,-10.00M42.83,-6.33L57.48,-8.45M43.00,-5.08L57.70,-6.81M43.13,-3.81L57.87,-5.17M43.22,-2.59L57.99,-3.57M43.27,-1.59L58.06,-2.04M43.30,-0.37L58.10,-0.43" stroke="#000" stroke-opacity="0.88" stroke-width="1.05" fill="none"/>
<path d="M28.50,0.05L43.30,0.06M28.47,1.22L43.26,1.86M28.40,2.37L43.16,3.53M28.30,3.33L43.01,5.04M28.16,4.40L42.77,6.74M27.95,5.55L42.46,8.47M27.72,6.62L42.12,10.03M27.43,7.72L41.69,11.71M27.14,8.69L41.24,13.21M26.78,9.75L40.71,14.74M26.38,10.79L40.06,16.43M25.99,11.70L39.47,17.81M25.48,12.78L38.73,19.36M24.94,13.79L37.92,20.91M24.44,14.65L37.16,22.23M23.83,15.63L36.22,23.73M16.09,23.52L24.40,35.77M5.28,28.01L8.08,42.54M-5.45,27.97L-8.31,42.49M-15.49,23.92L-23.51,36.36M-22.99,16.84L-34.95,25.57M-26.86,9.52L-40.81,14.47M-27.20,8.50L-41.34,12.88M-27.52,7.41L-41.80,11.29M-27.78,6.36L-42.20,9.70M-28.00,5.34L-42.55,8.04M-28.19,4.16L-42.84,6.28M-28.34,3.01L-43.05,4.63M-28.43,2.00L-43.20,2.98M-28.48,0.96L-43.28,1.39M-28.50,-0.26L-43.30,-0.35M-28.47,-1.28L-43.26,-1.96M-28.40,-2.38L-43.15,-3.57M-28.29,-3.47L-42.98,-5.25M-28.11,-4.71L-42.69,-7.23M-25.97,-11.73L-39.46,-17.82M-22.59,-17.38L-34.35,-26.36M-17.68,-22.35L-26.85,-33.97M-11.83,-25.93L-17.94,-39.41M-4.73,-28.10L-7.17,-42.70M1.76,-28.45L2.67,-43.22M8.72,-27.13L13.20,-41.24M14.91,-24.29L22.60,-36.94M20.31,-19.99L30.82,-30.41M24.73,-14.17L37.59,-21.50M27.21,-8.48L41.35,-12.85M27.94,-5.60L42.46,-8.50M28.40,-2.36L43.15,-3.65" stroke="#000" stroke-opacity="0.88" stroke-width="1.05" fill="none"/>
</g>
<circle r="43.3" fill="none" stroke="#111" stroke-width="0.5"/>
<circle r="58.1" fill="none" stroke="#111" stroke-width="0.5"/>
<circle r="72.9" fill="none" stroke="#111" stroke-width="0.5"/>
<circle r="87.7" fill="none" stroke="#111" stroke-width="0.5"/>
<circle r="102.5" fill="none" stroke="#111" stroke-width="0.5"/>
<path d="M34.12,26.66A43.3,43.3 0 0 1 -37.50,21.65M-41.41,-12.66A43.3,43.3 0 0 1 -21.65,-37.50M16.22,-40.15A43.3,43.3 0 0 1 21.65,-37.50M32.18,-28.97A43.3,43.3 0 0 1 37.50,-21.65M-10.09,57.22A58.1,58.1 0 0 1 -25.47,52.22M-35.77,45.78A58.1,58.1 0 0 1 -50.32,29.05M-54.60,-19.87A58.1,58.1 0 0 1 -35.77,-45.78M21.76,-53.87A58.1,58.1 0 0 1 29.05,-50.32" stroke="#000" stroke-width="1.5" fill="none"/>
<circle r="28.5" fill="none" stroke="#000" stroke-width="1.9"/>
<path d="M-14.4,0.3L-28.5,0.3M14.4,0.3L58.1,0.3" stroke="#000" stroke-width="1.0"/>
<g fill="#c8d018" stroke="#2a2a00" stroke-width="0.55">
<circle cx="102.49" cy="1.53" r="1.55"/><circle cx="102.40" cy="4.44" r="1.55"/><circle cx="102.22" cy="7.53" r="1.55"/><circle cx="101.88" cy="11.22" r="1.55"/><circle cx="101.53" cy="14.07" r="1.55"/><circle cx="100.98" cy="17.56" r="1.55"/><circle cx="100.41" cy="20.61" r="1.55"/><circle cx="99.58" cy="24.30" r="1.55"/><circle cx="98.87" cy="27.04" r="1.55"/><circle cx="97.85" cy="30.51" r="1.55"/><circle cx="96.87" cy="33.51" r="1.55"/><circle cx="95.86" cy="36.28" r="1.55"/><circle cx="94.83" cy="38.90" r="1.55"/><circle cx="93.39" cy="42.24" r="1.55"/><circle cx="91.97" cy="45.26" r="1.55"/><circle cx="90.60" cy="47.93" r="1.55"/><circle cx="89.04" cy="50.77" r="1.55"/><circle cx="87.14" cy="53.97" r="1.55"/><circle cx="85.51" cy="56.52" r="1.55"/><circle cx="83.60" cy="59.31" r="1.55"/><circle cx="81.86" cy="61.69" r="1.55"/><circle cx="80.02" cy="64.05" r="1.55"/><circle cx="77.74" cy="66.81" r="1.55"/><circle cx="75.40" cy="69.44" r="1.55"/><circle cx="73.33" cy="71.62" r="1.55"/><circle cx="71.28" cy="73.66" r="1.55"/><circle cx="69.16" cy="75.65" r="1.55"/><circle cx="66.60" cy="77.91" r="1.55"/><circle cx="64.06" cy="80.02" r="1.55"/><circle cx="61.62" cy="81.91" r="1.55"/><circle cx="59.18" cy="83.69" r="1.55"/><circle cx="56.36" cy="85.62" r="1.55"/><circle cx="53.39" cy="87.50" r="1.55"/><circle cx="50.27" cy="89.33" r="1.55"/><circle cx="47.28" cy="90.94" r="1.55"/><circle cx="44.59" cy="92.29" r="1.55"/><circle cx="41.98" cy="93.51" r="1.55"/><circle cx="38.73" cy="94.90" r="1.55"/><circle cx="35.73" cy="96.07" r="1.55"/><circle cx="32.40" cy="97.24" r="1.55"/><circle cx="29.67" cy="98.11" r="1.55"/><circle cx="26.18" cy="99.10" r="1.55"/><circle cx="23.13" cy="99.86" r="1.55"/><circle cx="19.56" cy="100.62" r="1.55"/><circle cx="15.95" cy="101.25" r="1.55"/><circle cx="12.68" cy="101.71" r="1.55"/><circle cx="9.87" cy="102.02" r="1.55"/><circle cx="6.16" cy="102.31" r="1.55"/><circle cx="2.88" cy="102.46" r="1.55"/><circle cx="-0.80" cy="102.50" r="1.55"/><circle cx="-3.88" cy="102.43" r="1.55"/><circle cx="-6.87" cy="102.27" r="1.55"/><circle cx="-10.50" cy="101.96" r="1.55"/><circle cx="-13.65" cy="101.59" r="1.55"/><circle cx="-16.60" cy="101.15" r="1.55"/><circle cx="-19.73" cy="100.58" r="1.55"/><circle cx="-23.06" cy="99.87" r="1.55"/><circle cx="-25.79" cy="99.20" r="1.55"/><circle cx="-29.00" cy="98.31" r="1.55"/><circle cx="-32.11" cy="97.34" r="1.55"/><circle cx="-35.25" cy="96.25" r="1.55"/><circle cx="-37.99" cy="95.20" r="1.55"/><circle cx="-41.24" cy="93.84" r="1.55"/><circle cx="-44.53" cy="92.32" r="1.55"/><circle cx="-47.81" cy="90.67" r="1.55"/><circle cx="-50.55" cy="89.17" r="1.55"/><circle cx="-53.58" cy="87.38" r="1.55"/><circle cx="-56.28" cy="85.67" r="1.55"/><circle cx="-59.22" cy="83.66" r="1.55"/><circle cx="-61.54" cy="81.97" r="1.55"/><circle cx="-64.44" cy="79.71" r="1.55"/><circle cx="-67.32" cy="77.29" r="1.55"/><circle cx="-69.78" cy="75.08" r="1.55"/><circle cx="-72.18" cy="72.78" r="1.55"/><circle cx="-74.51" cy="70.39" r="1.55"/><circle cx="-76.77" cy="67.92" r="1.55"/><circle cx="-78.62" cy="65.77" r="1.55"/><circle cx="-80.98" cy="62.83" r="1.55"/><circle cx="-82.81" cy="60.41" r="1.55"/><circle cx="-84.54" cy="57.96" r="1.55"/><circle cx="-86.15" cy="55.54" r="1.55"/><circle cx="-87.77" cy="52.94" r="1.55"/><circle cx="-89.59" cy="49.80" r="1.55"/><circle cx="-90.93" cy="47.30" r="1.55"/><circle cx="-92.24" cy="44.70" r="1.55"/><circle cx="-93.72" cy="41.52" r="1.55"/><circle cx="-94.89" cy="38.75" r="1.55"/><circle cx="-95.93" cy="36.12" r="1.55"/><circle cx="-97.07" cy="32.91" r="1.55"/><circle cx="-98.11" cy="29.68" r="1.55"/><circle cx="-99.02" cy="26.48" r="1.55"/><circle cx="-99.87" cy="23.07" r="1.55"/><circle cx="-100.49" cy="20.22" r="1.55"/><circle cx="-101.15" cy="16.61" r="1.55"/><circle cx="-101.66" cy="13.12" r="1.55"/><circle cx="-101.98" cy="10.28" r="1.55"/><circle cx="-102.24" cy="7.35" r="1.55"/><circle cx="-102.42" cy="4.06" r="1.55"/><circle cx="-102.50" cy="0.75" r="1.55"/><circle cx="-102.47" cy="-2.34" r="1.55"/><circle cx="-102.36" cy="-5.28" r="1.55"/><circle cx="-102.15" cy="-8.48" r="1.55"/><circle cx="-101.86" cy="-11.42" r="1.55"/><circle cx="-101.43" cy="-14.79" r="1.55"/><circle cx="-100.83" cy="-18.41" r="1.55"/><circle cx="-100.26" cy="-21.31" r="1.55"/><circle cx="-99.50" cy="-24.61" r="1.55"/><circle cx="-98.59" cy="-28.05" r="1.55"/><circle cx="-97.73" cy="-30.90" r="1.55"/><circle cx="-96.58" cy="-34.34" r="1.55"/><circle cx="-95.26" cy="-37.84" r="1.55"/><circle cx="-94.03" cy="-40.80" r="1.55"/><circle cx="-92.70" cy="-43.74" r="1.55"/><circle cx="-91.08" cy="-47.01" r="1.55"/><circle cx="-89.51" cy="-49.95" r="1.55"/><circle cx="-87.90" cy="-52.72" r="1.55"/><circle cx="-85.91" cy="-55.90" r="1.55"/><circle cx="-83.91" cy="-58.87" r="1.55"/><circle cx="-82.06" cy="-61.42" r="1.55"/><circle cx="-80.19" cy="-63.84" r="1.55"/><circle cx="-78.20" cy="-66.27" r="1.55"/><circle cx="-76.06" cy="-68.71" r="1.55"/><circle cx="-73.47" cy="-71.47" r="1.55"/><circle cx="-70.91" cy="-74.02" r="1.55"/><circle cx="-68.17" cy="-76.54" r="1.55"/><circle cx="-65.43" cy="-78.90" r="1.55"/><circle cx="-62.57" cy="-81.18" r="1.55"/><circle cx="-60.28" cy="-82.90" r="1.55"/><circle cx="-57.56" cy="-84.81" r="1.55"/><circle cx="-54.40" cy="-86.87" r="1.55"/><circle cx="-51.20" cy="-88.80" r="1.55"/><circle cx="-48.52" cy="-90.29" r="1.55"/><circle cx="-45.65" cy="-91.77" r="1.55"/><circle cx="-42.55" cy="-93.25" r="1.55"/><circle cx="-39.64" cy="-94.53" r="1.55"/><circle cx="-36.54" cy="-95.77" r="1.55"/><circle cx="-33.83" cy="-96.76" r="1.55"/><circle cx="-30.75" cy="-97.78" r="1.55"/><circle cx="-27.58" cy="-98.72" r="1.55"/><circle cx="-24.84" cy="-99.45" r="1.55"/><circle cx="-21.96" cy="-100.12" r="1.55"/><circle cx="-18.26" cy="-100.86" r="1.55"/><circle cx="-14.72" cy="-101.44" r="1.55"/><circle cx="-11.01" cy="-101.91" r="1.55"/><circle cx="-7.58" cy="-102.22" r="1.55"/><circle cx="-3.97" cy="-102.42" r="1.55"/><circle cx="-0.28" cy="-102.50" r="1.55"/><circle cx="3.41" cy="-102.44" r="1.55"/><circle cx="6.25" cy="-102.31" r="1.55"/><circle cx="9.69" cy="-102.04" r="1.55"/><circle cx="12.75" cy="-101.70" r="1.55"/><circle cx="16.20" cy="-101.21" r="1.55"/><circle cx="19.24" cy="-100.68" r="1.55"/><circle cx="22.52" cy="-100.00" r="1.55"/><circle cx="26.15" cy="-99.11" r="1.55"/><circle cx="29.45" cy="-98.18" r="1.55"/><circle cx="32.37" cy="-97.26" r="1.55"/><circle cx="35.51" cy="-96.15" r="1.55"/><circle cx="38.53" cy="-94.98" r="1.55"/><circle cx="41.99" cy="-93.51" r="1.55"/><circle cx="44.79" cy="-92.19" r="1.55"/><circle cx="47.58" cy="-90.79" r="1.55"/><circle cx="50.61" cy="-89.13" r="1.55"/><circle cx="53.14" cy="-87.65" r="1.55"/><circle cx="56.02" cy="-85.84" r="1.55"/><circle cx="59.13" cy="-83.72" r="1.55"/><circle cx="61.81" cy="-81.76" r="1.55"/><circle cx="64.24" cy="-79.87" r="1.55"/><circle cx="66.76" cy="-77.78" r="1.55"/><circle cx="69.26" cy="-75.56" r="1.55"/><circle cx="71.42" cy="-73.52" r="1.55"/><circle cx="73.49" cy="-71.45" r="1.55"/><circle cx="75.51" cy="-69.31" r="1.55"/><circle cx="77.58" cy="-66.99" r="1.55"/><circle cx="79.64" cy="-64.52" r="1.55"/><circle cx="81.56" cy="-62.09" r="1.55"/><circle cx="83.37" cy="-59.63" r="1.55"/><circle cx="85.02" cy="-57.25" r="1.55"/><circle cx="86.85" cy="-54.43" r="1.55"/><circle cx="88.73" cy="-51.31" r="1.55"/><circle cx="90.40" cy="-48.32" r="1.55"/><circle cx="91.94" cy="-45.31" r="1.55"/><circle cx="93.42" cy="-42.19" r="1.55"/><circle cx="94.62" cy="-39.42" r="1.55"/><circle cx="95.91" cy="-36.15" r="1.55"/><circle cx="97.02" cy="-33.07" r="1.55"/><circle cx="98.05" cy="-29.88" r="1.55"/><circle cx="98.99" cy="-26.59" r="1.55"/><circle cx="99.79" cy="-23.41" r="1.55"/><circle cx="100.46" cy="-20.36" r="1.55"/><circle cx="101.02" cy="-17.36" r="1.55"/><circle cx="101.49" cy="-14.36" r="1.55"/><circle cx="101.90" cy="-11.07" r="1.55"/><circle cx="102.20" cy="-7.89" r="1.55"/><circle cx="102.40" cy="-4.50" r="1.55"/><circle cx="102.49" cy="-1.68" r="1.55"/>
<circle cx="87.69" cy="1.39" r="1.6"/><circle cx="87.59" cy="4.35" r="1.6"/><circle cx="87.37" cy="7.61" r="1.6"/><circle cx="87.03" cy="10.80" r="1.6"/><circle cx="86.61" cy="13.77" r="1.6"/><circle cx="85.96" cy="17.40" r="1.6"/><circle cx="85.31" cy="20.34" r="1.6"/><circle cx="84.43" cy="23.71" r="1.6"/><circle cx="83.61" cy="26.47" r="1.6"/><circle cx="82.72" cy="29.13" r="1.6"/><circle cx="81.47" cy="32.47" r="1.6"/><circle cx="80.25" cy="35.38" r="1.6"/><circle cx="79.08" cy="37.92" r="1.6"/><circle cx="77.69" cy="40.69" r="1.6"/><circle cx="76.17" cy="43.46" r="1.6"/><circle cx="74.41" cy="46.42" r="1.6"/><circle cx="72.87" cy="48.80" r="1.6"/><circle cx="71.19" cy="51.22" r="1.6"/><circle cx="68.99" cy="54.15" r="1.6"/><circle cx="66.81" cy="56.81" r="1.6"/><circle cx="64.91" cy="58.98" r="1.6"/><circle cx="62.81" cy="61.20" r="1.6"/><circle cx="60.63" cy="63.37" r="1.6"/><circle cx="58.14" cy="65.66" r="1.6"/><circle cx="55.61" cy="67.81" r="1.6"/><circle cx="52.82" cy="70.01" r="1.6"/><circle cx="49.96" cy="72.08" r="1.6"/><circle cx="47.27" cy="73.87" r="1.6"/><circle cx="44.34" cy="75.67" r="1.6"/><circle cx="41.33" cy="77.35" r="1.6"/><circle cx="38.24" cy="78.92" r="1.6"/><circle cx="35.34" cy="80.26" r="1.6"/><circle cx="32.12" cy="81.60" r="1.6"/><circle cx="28.92" cy="82.79" r="1.6"/><circle cx="25.49" cy="83.91" r="1.6"/><circle cx="22.74" cy="84.70" r="1.6"/><circle cx="19.27" cy="85.56" r="1.6"/><circle cx="16.60" cy="86.12" r="1.6"/><circle cx="13.18" cy="86.70" r="1.6"/><circle cx="9.91" cy="87.14" r="1.6"/><circle cx="6.71" cy="87.44" r="1.6"/><circle cx="3.06" cy="87.65" r="1.6"/><circle cx="-0.23" cy="87.70" r="1.6"/><circle cx="-3.36" cy="87.64" r="1.6"/><circle cx="-6.84" cy="87.43" r="1.6"/><circle cx="-10.40" cy="87.08" r="1.6"/><circle cx="-13.69" cy="86.63" r="1.6"/><circle cx="-16.74" cy="86.09" r="1.6"/><circle cx="-19.84" cy="85.43" r="1.6"/><circle cx="-22.91" cy="84.65" r="1.6"/><circle cx="-26.21" cy="83.69" r="1.6"/><circle cx="-29.07" cy="82.74" r="1.6"/><circle cx="-31.98" cy="81.66" r="1.6"/><circle cx="-35.00" cy="80.41" r="1.6"/><circle cx="-37.82" cy="79.12" r="1.6"/><circle cx="-40.55" cy="77.76" r="1.6"/><circle cx="-43.61" cy="76.09" r="1.6"/><circle cx="-46.65" cy="74.26" r="1.6"/><circle cx="-49.34" cy="72.50" r="1.6"/><circle cx="-51.92" cy="70.68" r="1.6"/><circle cx="-54.24" cy="68.92" r="1.6"/><circle cx="-56.58" cy="67.00" r="1.6"/><circle cx="-58.75" cy="65.12" r="1.6"/><circle cx="-61.15" cy="62.87" r="1.6"/><circle cx="-63.46" cy="60.53" r="1.6"/><circle cx="-65.37" cy="58.46" r="1.6"/><circle cx="-67.73" cy="55.71" r="1.6"/><circle cx="-69.62" cy="53.33" r="1.6"/><circle cx="-71.72" cy="50.47" r="1.6"/><circle cx="-73.70" cy="47.53" r="1.6"/><circle cx="-75.62" cy="44.42" r="1.6"/><circle cx="-77.06" cy="41.87" r="1.6"/><circle cx="-78.51" cy="39.08" r="1.6"/><circle cx="-80.05" cy="35.82" r="1.6"/><circle cx="-81.13" cy="33.30" r="1.6"/><circle cx="-82.15" cy="30.71" r="1.6"/><circle cx="-83.24" cy="27.62" r="1.6"/><circle cx="-84.19" cy="24.56" r="1.6"/><circle cx="-85.13" cy="21.06" r="1.6"/><circle cx="-85.90" cy="17.67" r="1.6"/><circle cx="-86.50" cy="14.47" r="1.6"/><circle cx="-87.03" cy="10.82" r="1.6"/><circle cx="-87.37" cy="7.60" r="1.6"/><circle cx="-87.59" cy="4.38" r="1.6"/><circle cx="-87.69" cy="0.99" r="1.6"/><circle cx="-87.67" cy="-2.12" r="1.6"/><circle cx="-87.55" cy="-5.19" r="1.6"/><circle cx="-87.29" cy="-8.49" r="1.6"/><circle cx="-86.94" cy="-11.54" r="1.6"/><circle cx="-86.38" cy="-15.14" r="1.6"/><circle cx="-86.18" cy="-16.26" r="1.85"/><circle cx="-85.46" cy="-19.68" r="1.85"/><circle cx="-84.52" cy="-23.40" r="1.85"/><circle cx="-83.41" cy="-27.09" r="1.85"/><circle cx="-82.07" cy="-30.92" r="1.85"/><circle cx="-80.55" cy="-34.69" r="1.85"/><circle cx="-78.69" cy="-38.72" r="1.85"/><circle cx="-76.59" cy="-42.73" r="1.85"/><circle cx="-74.58" cy="-46.15" r="1.85"/><circle cx="-72.45" cy="-49.42" r="1.85"/><circle cx="-70.04" cy="-52.78" r="1.85"/><circle cx="-67.20" cy="-56.36" r="1.85"/><circle cx="-64.70" cy="-59.21" r="1.85"/><circle cx="-61.92" cy="-62.11" r="1.85"/><circle cx="-58.76" cy="-65.11" r="1.85"/><circle cx="-56.05" cy="-67.45" r="1.85"/><circle cx="-53.10" cy="-69.80" r="1.85"/><circle cx="-49.41" cy="-72.46" r="1.85"/><circle cx="-45.74" cy="-74.83" r="1.85"/><circle cx="-43.70" cy="-76.04" r="1.6"/><circle cx="-40.54" cy="-77.77" r="1.6"/><circle cx="-37.50" cy="-79.28" r="1.6"/><circle cx="-34.29" cy="-80.72" r="1.6"/><circle cx="-30.86" cy="-82.09" r="1.6"/><circle cx="-27.48" cy="-83.28" r="1.6"/><circle cx="-24.48" cy="-84.21" r="1.6"/><circle cx="-21.70" cy="-84.97" r="1.6"/><circle cx="-18.77" cy="-85.67" r="1.6"/><circle cx="-15.61" cy="-86.30" r="1.6"/><circle cx="-12.43" cy="-86.81" r="1.6"/><circle cx="-9.54" cy="-87.18" r="1.6"/><circle cx="-6.64" cy="-87.45" r="1.6"/><circle cx="-3.31" cy="-87.64" r="1.6"/><circle cx="0.00" cy="-87.70" r="1.6"/><circle cx="3.07" cy="-87.65" r="1.6"/><circle cx="6.76" cy="-87.44" r="1.6"/><circle cx="10.09" cy="-87.12" r="1.6"/><circle cx="12.84" cy="-86.76" r="1.6"/><circle cx="15.92" cy="-86.24" r="1.6"/><circle cx="19.35" cy="-85.54" r="1.6"/><circle cx="22.29" cy="-84.82" r="1.6"/><circle cx="25.56" cy="-83.89" r="1.6"/><circle cx="28.16" cy="-83.06" r="1.6"/><circle cx="31.01" cy="-82.04" r="1.6"/><circle cx="34.30" cy="-80.72" r="1.6"/><circle cx="37.31" cy="-79.37" r="1.6"/><circle cx="40.33" cy="-77.87" r="1.6"/><circle cx="42.91" cy="-76.49" r="1.6"/><circle cx="45.68" cy="-74.86" r="1.6"/><circle cx="48.43" cy="-73.11" r="1.6"/><circle cx="50.90" cy="-71.42" r="1.6"/><circle cx="53.59" cy="-69.42" r="1.6"/><circle cx="56.12" cy="-67.39" r="1.6"/><circle cx="58.91" cy="-64.97" r="1.6"/><circle cx="61.30" cy="-62.72" r="1.6"/><circle cx="63.50" cy="-60.49" r="1.6"/><circle cx="65.43" cy="-58.39" r="1.6"/><circle cx="67.32" cy="-56.21" r="1.6"/><circle cx="69.48" cy="-53.51" r="1.6"/><circle cx="71.18" cy="-51.24" r="1.6"/><circle cx="72.79" cy="-48.91" r="1.6"/><circle cx="74.37" cy="-46.48" r="1.6"/><circle cx="76.03" cy="-43.71" r="1.6"/><circle cx="77.73" cy="-40.62" r="1.6"/><circle cx="79.21" cy="-37.64" r="1.6"/><circle cx="80.65" cy="-34.44" r="1.6"/><circle cx="81.71" cy="-31.86" r="1.6"/><circle cx="82.67" cy="-29.29" r="1.6"/><circle cx="83.76" cy="-25.99" r="1.6"/><circle cx="84.61" cy="-23.07" r="1.6"/><circle cx="85.45" cy="-19.75" r="1.6"/><circle cx="86.09" cy="-16.74" r="1.6"/><circle cx="86.59" cy="-13.89" r="1.6"/><circle cx="87.02" cy="-10.93" r="1.6"/><circle cx="87.32" cy="-8.12" r="1.6"/><circle cx="87.58" cy="-4.53" r="1.6"/><circle cx="87.69" cy="-1.23" r="1.6"/>
<circle cx="72.90" cy="0.72" r="1.65"/><circle cx="72.80" cy="3.79" r="1.65"/><circle cx="72.61" cy="6.53" r="1.65"/><circle cx="72.20" cy="10.06" r="1.65"/><circle cx="71.68" cy="13.28" r="1.65"/><circle cx="70.93" cy="16.82" r="1.65"/><circle cx="70.15" cy="19.85" r="1.65"/><circle cx="69.18" cy="23.00" r="1.65"/><circle cx="68.19" cy="25.77" r="1.65"/><circle cx="67.18" cy="28.32" r="1.65"/><circle cx="65.70" cy="31.59" r="1.65"/><circle cx="64.10" cy="34.72" r="1.65"/><circle cx="62.61" cy="37.34" r="1.65"/><circle cx="60.72" cy="40.35" r="1.65"/><circle cx="58.72" cy="43.20" r="1.65"/><circle cx="56.90" cy="45.58" r="1.65"/><circle cx="54.79" cy="48.09" r="1.65"/><circle cx="52.34" cy="50.75" r="1.65"/><circle cx="50.08" cy="52.98" r="1.65"/><circle cx="47.39" cy="55.39" r="1.65"/><circle cx="45.12" cy="57.26" r="1.65"/><circle cx="42.67" cy="59.11" r="1.65"/><circle cx="39.87" cy="61.03" r="1.65"/><circle cx="37.40" cy="62.57" r="1.65"/><circle cx="34.80" cy="64.06" r="1.65"/><circle cx="31.65" cy="65.67" r="1.65"/><circle cx="28.77" cy="66.98" r="1.65"/><circle cx="25.56" cy="68.27" r="1.65"/><circle cx="22.79" cy="69.25" r="1.65"/><circle cx="20.04" cy="70.09" r="1.65"/><circle cx="17.10" cy="70.87" r="1.65"/><circle cx="14.29" cy="71.49" r="1.65"/><circle cx="10.71" cy="72.11" r="1.65"/><circle cx="7.75" cy="72.49" r="1.65"/><circle cx="4.52" cy="72.76" r="1.65"/><circle cx="1.71" cy="72.88" r="1.65"/><circle cx="-1.50" cy="72.88" r="1.65"/><circle cx="-4.57" cy="72.76" r="1.65"/><circle cx="-7.65" cy="72.50" r="1.65"/><circle cx="-10.39" cy="72.16" r="1.65"/><circle cx="-13.17" cy="71.70" r="1.65"/><circle cx="-16.59" cy="70.99" r="1.65"/><circle cx="-19.54" cy="70.23" r="1.65"/><circle cx="-22.35" cy="69.39" r="1.65"/><circle cx="-25.08" cy="68.45" r="1.65"/><circle cx="-27.85" cy="67.37" r="1.65"/><circle cx="-30.53" cy="66.20" r="1.65"/><circle cx="-33.00" cy="65.00" r="1.65"/><circle cx="-35.94" cy="63.43" r="1.65"/><circle cx="-38.54" cy="61.88" r="1.65"/><circle cx="-40.93" cy="60.32" r="1.65"/><circle cx="-43.68" cy="58.36" r="1.65"/><circle cx="-45.89" cy="56.65" r="1.65"/><circle cx="-48.15" cy="54.74" r="1.65"/><circle cx="-50.72" cy="52.36" r="1.65"/><circle cx="-52.71" cy="50.36" r="1.65"/><circle cx="-54.82" cy="48.05" r="1.65"/><circle cx="-57.07" cy="45.36" r="1.65"/><circle cx="-59.16" cy="42.60" r="1.65"/><circle cx="-60.78" cy="40.25" r="1.65"/><circle cx="-62.41" cy="37.68" r="1.65"/><circle cx="-64.09" cy="34.73" r="1.65"/><circle cx="-65.50" cy="32.01" r="1.65"/><circle cx="-67.00" cy="28.72" r="1.65"/><circle cx="-68.09" cy="26.03" r="1.65"/><circle cx="-69.30" cy="22.63" r="1.65"/><circle cx="-70.22" cy="19.58" r="1.65"/><circle cx="-70.95" cy="16.75" r="1.65"/><circle cx="-71.60" cy="13.68" r="1.65"/><circle cx="-72.08" cy="10.90" r="1.65"/><circle cx="-72.51" cy="7.55" r="1.65"/><circle cx="-72.75" cy="4.60" r="1.65"/><circle cx="-72.89" cy="1.04" r="1.65"/><circle cx="-72.87" cy="-2.22" r="1.65"/><circle cx="-72.71" cy="-5.27" r="1.65"/><circle cx="-72.44" cy="-8.20" r="1.65"/><circle cx="-72.00" cy="-11.45" r="1.65"/><circle cx="-71.46" cy="-14.40" r="1.95"/><circle cx="-70.66" cy="-17.92" r="1.95"/><circle cx="-69.55" cy="-21.86" r="1.95"/><circle cx="-68.20" cy="-25.75" r="1.95"/><circle cx="-66.77" cy="-29.26" r="1.95"/><circle cx="-64.88" cy="-33.24" r="1.95"/><circle cx="-62.99" cy="-36.69" r="1.95"/><circle cx="-60.74" cy="-40.31" r="1.95"/><circle cx="-58.35" cy="-43.70" r="1.95"/><circle cx="-55.97" cy="-46.71" r="1.95"/><circle cx="-53.36" cy="-49.67" r="1.95"/><circle cx="-50.87" cy="-52.22" r="1.95"/><circle cx="-48.17" cy="-54.72" r="1.95"/><circle cx="-44.71" cy="-57.58" r="1.95"/><circle cx="-41.60" cy="-59.86" r="1.95"/><circle cx="-38.03" cy="-62.20" r="1.95"/><circle cx="-35.67" cy="-63.58" r="1.65"/><circle cx="-32.98" cy="-65.01" r="1.65"/><circle cx="-30.12" cy="-66.39" r="1.65"/><circle cx="-27.37" cy="-67.57" r="1.65"/><circle cx="-24.79" cy="-68.56" r="1.65"/><circle cx="-21.95" cy="-69.52" r="1.65"/><circle cx="-19.15" cy="-70.34" r="1.65"/><circle cx="-16.41" cy="-71.03" r="1.65"/><circle cx="-13.09" cy="-71.72" r="1.65"/><circle cx="-10.15" cy="-72.19" r="1.65"/><circle cx="-7.09" cy="-72.55" r="1.65"/><circle cx="-3.53" cy="-72.81" r="1.65"/><circle cx="-0.08" cy="-72.90" r="1.65"/><circle cx="3.46" cy="-72.82" r="1.65"/><circle cx="6.98" cy="-72.57" r="1.65"/><circle cx="9.79" cy="-72.24" r="1.65"/><circle cx="12.72" cy="-71.78" r="1.65"/><circle cx="15.40" cy="-71.25" r="1.65"/><circle cx="18.66" cy="-70.47" r="1.65"/><circle cx="21.86" cy="-69.54" r="1.65"/><circle cx="24.74" cy="-68.57" r="1.65"/><circle cx="27.63" cy="-67.46" r="1.65"/><circle cx="30.69" cy="-66.13" r="1.65"/><circle cx="33.71" cy="-64.64" r="1.65"/><circle cx="36.29" cy="-63.22" r="1.65"/><circle cx="39.29" cy="-61.40" r="1.65"/><circle cx="41.82" cy="-59.71" r="1.65"/><circle cx="44.48" cy="-57.76" r="1.65"/><circle cx="46.73" cy="-55.96" r="1.65"/><circle cx="48.85" cy="-54.11" r="1.65"/><circle cx="51.44" cy="-51.65" r="1.65"/><circle cx="53.80" cy="-49.19" r="1.65"/><circle cx="56.02" cy="-46.65" r="1.65"/><circle cx="57.74" cy="-44.51" r="1.65"/><circle cx="59.37" cy="-42.30" r="1.65"/><circle cx="60.98" cy="-39.94" r="1.65"/><circle cx="62.52" cy="-37.49" r="1.65"/><circle cx="64.01" cy="-34.89" r="1.65"/><circle cx="65.42" cy="-32.17" r="1.65"/><circle cx="66.58" cy="-29.69" r="1.65"/><circle cx="67.75" cy="-26.93" r="1.65"/><circle cx="68.90" cy="-23.82" r="1.65"/><circle cx="69.78" cy="-21.08" r="1.65"/><circle cx="70.72" cy="-17.71" r="1.65"/><circle cx="71.44" cy="-14.54" r="1.65"/><circle cx="72.03" cy="-11.21" r="1.65"/><circle cx="72.43" cy="-8.29" r="1.65"/><circle cx="72.72" cy="-5.18" r="1.65"/><circle cx="72.88" cy="-1.83" r="1.65"/>
<circle cx="58.10" cy="0.00" r="1.7"/><circle cx="58.03" cy="2.90" r="1.7"/><circle cx="57.81" cy="5.75" r="1.7"/><circle cx="57.52" cy="8.20" r="1.7"/><circle cx="57.15" cy="10.44" r="1.7"/><circle cx="56.56" cy="13.30" r="1.7"/><circle cx="55.87" cy="15.93" r="1.7"/><circle cx="55.21" cy="18.11" r="1.7"/><circle cx="54.40" cy="20.41" r="1.7"/><circle cx="53.54" cy="22.57" r="1.7"/><circle cx="52.36" cy="25.18" r="1.7"/><circle cx="51.27" cy="27.33" r="1.7"/><circle cx="49.81" cy="29.91" r="1.7"/><circle cx="48.29" cy="32.30" r="1.7"/><circle cx="46.97" cy="34.20" r="1.7"/><circle cx="45.28" cy="36.41" r="1.7"/><circle cx="43.57" cy="38.44" r="1.7"/><circle cx="40.65" cy="41.51" r="1.7"/><circle cx="38.01" cy="43.95" r="1.7"/><circle cx="35.39" cy="46.08" r="1.7"/><circle cx="31.82" cy="48.61" r="1.7"/><circle cx="28.61" cy="50.57" r="1.7"/><circle cx="24.75" cy="52.57" r="1.7"/><circle cx="21.00" cy="54.17" r="1.7"/><circle cx="17.10" cy="55.53" r="1.7"/><circle cx="13.01" cy="56.62" r="1.7"/><circle cx="9.09" cy="57.39" r="1.7"/><circle cx="5.32" cy="57.86" r="1.7"/><circle cx="1.99" cy="58.07" r="1.7"/><circle cx="-2.10" cy="58.06" r="1.7"/><circle cx="-5.86" cy="57.80" r="1.7"/><circle cx="-9.69" cy="57.29" r="1.7"/><circle cx="-13.94" cy="56.40" r="1.7"/><circle cx="-17.24" cy="55.48" r="1.7"/><circle cx="-21.16" cy="54.11" r="1.7"/><circle cx="-24.22" cy="52.81" r="1.7"/><circle cx="-27.88" cy="50.98" r="1.7"/><circle cx="-31.49" cy="48.83" r="1.7"/><circle cx="-34.44" cy="46.80" r="1.7"/><circle cx="-37.50" cy="44.38" r="1.7"/><circle cx="-40.75" cy="41.41" r="1.7"/><circle cx="-43.51" cy="38.50" r="1.7"/><circle cx="-46.00" cy="35.49" r="1.7"/><circle cx="-48.09" cy="32.61" r="1.7"/><circle cx="-49.88" cy="29.79" r="1.7"/><circle cx="-50.59" cy="28.58" r="1.7"/><circle cx="-51.72" cy="26.47" r="1.7"/><circle cx="-52.81" cy="24.23" r="1.7"/><circle cx="-53.74" cy="22.07" r="1.7"/><circle cx="-54.74" cy="19.46" r="1.7"/><circle cx="-55.61" cy="16.83" r="1.7"/><circle cx="-56.26" cy="14.49" r="1.7"/><circle cx="-56.82" cy="12.12" r="1.7"/><circle cx="-57.32" cy="9.52" r="1.7"/><circle cx="-57.68" cy="6.95" r="1.7"/><circle cx="-57.96" cy="3.98" r="1.7"/><circle cx="-58.08" cy="1.47" r="1.7"/><circle cx="-58.09" cy="-1.01" r="1.7"/><circle cx="-57.97" cy="-3.95" r="1.7"/><circle cx="-57.76" cy="-6.29" r="1.7"/><circle cx="-57.41" cy="-8.95" r="1.7"/><circle cx="-56.97" cy="-11.42" r="1.7"/><circle cx="-56.33" cy="-14.24" r="1.7"/><circle cx="-55.61" cy="-16.81" r="1.7"/><circle cx="-54.73" cy="-19.51" r="1.7"/><circle cx="-54.06" cy="-21.29" r="1.7"/><circle cx="-52.16" cy="-25.59" r="1.7"/><circle cx="-50.02" cy="-29.56" r="1.7"/><circle cx="-47.34" cy="-33.69" r="1.7"/><circle cx="-44.25" cy="-37.65" r="1.7"/><circle cx="-41.53" cy="-40.63" r="1.7"/><circle cx="-38.44" cy="-43.57" r="1.7"/><circle cx="-35.05" cy="-46.34" r="1.7"/><circle cx="-32.42" cy="-48.21" r="1.7"/><circle cx="-30.18" cy="-49.64" r="1.7"/><circle cx="-27.95" cy="-50.94" r="1.7"/><circle cx="-25.27" cy="-52.32" r="1.7"/><circle cx="-22.73" cy="-53.47" r="1.7"/><circle cx="-20.40" cy="-54.40" r="1.7"/><circle cx="-17.86" cy="-55.29" r="1.7"/><circle cx="-15.16" cy="-56.09" r="1.7"/><circle cx="-12.52" cy="-56.74" r="1.7"/><circle cx="-10.01" cy="-57.23" r="1.7"/><circle cx="-7.56" cy="-57.61" r="1.7"/><circle cx="-5.16" cy="-57.87" r="1.7"/><circle cx="-1.90" cy="-58.07" r="1.7"/><circle cx="1.15" cy="-58.09" r="1.7"/><circle cx="3.63" cy="-57.99" r="1.7"/><circle cx="6.64" cy="-57.72" r="1.7"/><circle cx="9.86" cy="-57.26" r="1.7"/><circle cx="10.33" cy="-57.17" r="1.7"/><circle cx="14.77" cy="-56.19" r="1.7"/><circle cx="19.05" cy="-54.89" r="1.7"/><circle cx="22.91" cy="-53.39" r="1.7"/><circle cx="27.08" cy="-51.40" r="1.7"/><circle cx="30.09" cy="-49.70" r="1.7"/><circle cx="32.41" cy="-48.22" r="1.7"/><circle cx="34.65" cy="-46.64" r="1.7"/><circle cx="36.99" cy="-44.80" r="1.7"/><circle cx="39.30" cy="-42.79" r="1.7"/><circle cx="42.30" cy="-39.83" r="1.7"/><circle cx="44.98" cy="-36.77" r="1.7"/><circle cx="47.36" cy="-33.66" r="1.7"/><circle cx="50.04" cy="-29.52" r="1.7"/><circle cx="52.41" cy="-25.08" r="1.7"/><circle cx="52.76" cy="-24.33" r="1.7"/><circle cx="53.85" cy="-21.81" r="1.7"/><circle cx="54.87" cy="-19.09" r="1.7"/><circle cx="55.78" cy="-16.26" r="1.7"/><circle cx="56.40" cy="-13.96" r="1.7"/><circle cx="57.02" cy="-11.17" r="1.7"/><circle cx="57.50" cy="-8.31" r="1.7"/><circle cx="57.84" cy="-5.51" r="1.7"/><circle cx="58.02" cy="-3.01" r="1.7"/><circle cx="58.10" cy="-0.63" r="1.7"/>
<circle cx="43.30" cy="0.27" r="1.75"/><circle cx="43.26" cy="1.86" r="1.75"/><circle cx="43.15" cy="3.55" r="1.75"/><circle cx="42.99" cy="5.14" r="1.75"/><circle cx="42.74" cy="6.95" r="1.75"/><circle cx="42.47" cy="8.45" r="1.75"/><circle cx="42.16" cy="9.86" r="1.75"/><circle cx="41.75" cy="11.50" r="1.75"/><circle cx="41.25" cy="13.15" r="1.75"/><circle cx="40.66" cy="14.88" r="1.75"/><circle cx="40.02" cy="16.52" r="1.75"/><circle cx="39.28" cy="18.23" r="1.75"/><circle cx="38.44" cy="19.92" r="1.75"/><circle cx="37.65" cy="21.38" r="1.75"/><circle cx="36.80" cy="22.81" r="1.75"/><circle cx="36.00" cy="24.06" r="1.75"/><circle cx="-39.44" cy="17.86" r="1.75"/><circle cx="-40.02" cy="16.53" r="1.75"/><circle cx="-40.66" cy="14.89" r="1.75"/><circle cx="-41.15" cy="13.48" r="1.75"/><circle cx="-41.63" cy="11.92" r="1.75"/><circle cx="-42.11" cy="10.08" r="1.75"/><circle cx="-42.43" cy="8.66" r="1.75"/><circle cx="-42.69" cy="7.25" r="1.75"/><circle cx="-42.93" cy="5.63" r="1.75"/><circle cx="-43.10" cy="4.14" r="1.75"/><circle cx="-43.24" cy="2.37" r="1.75"/><circle cx="-43.29" cy="0.95" r="1.75"/><circle cx="-43.29" cy="-0.88" r="1.75"/><circle cx="-43.21" cy="-2.72" r="1.75"/><circle cx="-43.06" cy="-4.52" r="1.75"/><circle cx="-42.86" cy="-6.13" r="1.75"/><circle cx="-42.62" cy="-7.66" r="1.75"/><circle cx="-42.27" cy="-9.37" r="1.75"/><circle cx="-41.88" cy="-11.00" r="1.75"/><circle cx="-21.21" cy="-37.75" r="1.75"/><circle cx="-18.57" cy="-39.12" r="1.75"/><circle cx="-15.66" cy="-40.37" r="1.75"/><circle cx="-12.52" cy="-41.45" r="1.75"/><circle cx="-9.24" cy="-42.30" r="1.75"/><circle cx="-6.57" cy="-42.80" r="1.75"/><circle cx="-3.75" cy="-43.14" r="1.75"/><circle cx="-0.78" cy="-43.29" r="1.75"/><circle cx="2.30" cy="-43.24" r="1.75"/><circle cx="5.17" cy="-42.99" r="1.75"/><circle cx="21.73" cy="-37.45" r="1.75"/><circle cx="23.56" cy="-36.33" r="1.75"/><circle cx="25.41" cy="-35.06" r="1.75"/><circle cx="27.46" cy="-33.48" r="1.75"/><circle cx="39.54" cy="-17.64" r="1.75"/><circle cx="40.28" cy="-15.89" r="1.75"/><circle cx="40.93" cy="-14.12" r="1.75"/><circle cx="41.46" cy="-12.48" r="1.75"/><circle cx="41.95" cy="-10.73" r="1.75"/><circle cx="42.28" cy="-9.32" r="1.75"/><circle cx="42.63" cy="-7.61" r="1.75"/><circle cx="42.89" cy="-5.91" r="1.75"/><circle cx="43.08" cy="-4.36" r="1.75"/><circle cx="43.22" cy="-2.67" r="1.75"/><circle cx="43.29" cy="-0.78" r="1.75"/><circle cx="14.81" cy="40.69" r="1.75"/><circle cx="3.77" cy="43.14" r="1.75"/><circle cx="-7.52" cy="42.64" r="1.75"/><circle cx="-24.84" cy="35.47" r="1.75"/><circle cx="-37.50" cy="21.65" r="1.75"/><circle cx="-35.47" cy="-24.84" r="1.75"/><circle cx="-26.66" cy="-34.12" r="1.75"/><circle cx="12.66" cy="-41.41" r="1.75"/><circle cx="28.97" cy="-32.18" r="1.75"/><circle cx="37.50" cy="-21.65" r="1.75"/><circle cx="24.96" cy="35.38" r="2.6"/>
<circle cx="28.50" cy="0.48" r="1.7"/><circle cx="28.44" cy="1.88" r="1.7"/><circle cx="28.31" cy="3.30" r="1.7"/><circle cx="28.07" cy="4.95" r="1.7"/><circle cx="27.82" cy="6.20" r="1.7"/><circle cx="27.49" cy="7.52" r="1.7"/><circle cx="27.03" cy="9.02" r="1.7"/><circle cx="26.53" cy="10.40" r="1.7"/><circle cx="26.03" cy="11.61" r="1.7"/><circle cx="25.35" cy="13.02" r="1.7"/><circle cx="-27.62" cy="7.01" r="1.7"/><circle cx="-27.91" cy="5.78" r="1.7"/><circle cx="-28.14" cy="4.50" r="1.7"/><circle cx="-28.32" cy="3.19" r="1.7"/><circle cx="-28.43" cy="1.95" r="1.7"/><circle cx="-28.49" cy="0.80" r="1.7"/><circle cx="-28.50" cy="-0.36" r="1.7"/><circle cx="-28.44" cy="-1.81" r="1.7"/><circle cx="-28.33" cy="-3.11" r="1.7"/><circle cx="-28.18" cy="-4.25" r="1.7"/><circle cx="20.15" cy="20.15" r="1.75"/><circle cx="-14.25" cy="24.68" r="1.75"/><circle cx="-21.83" cy="18.32" r="1.75"/><circle cx="-14.25" cy="-24.68" r="1.75"/><circle cx="-5.93" cy="-27.88" r="1.75"/><circle cx="2.48" cy="-28.39" r="1.75"/><circle cx="27.88" cy="-5.93" r="1.75"/>
<circle cx="-14.40" cy="0.00" r="3.1"/>
<circle cx="14.40" cy="0.00" r="1.3"/>
</g>
<circle r="0.5" fill="#555"/>
<path d="M44.25,-75.72L50.16,-89.39M44.25,-75.72L50.55,-89.17M44.25,-75.72L50.94,-88.95M44.25,-75.72L51.33,-88.72M44.25,-75.72L51.71,-88.50M44.25,-75.72L52.10,-88.27M44.25,-75.72L52.48,-88.04" stroke="#000" stroke-width="0.9" fill="none"/>
<path d="M-24.43,-14.68L-39.05,-18.71M-28.86,-32.28L-40.51,-41.65M9.89,-26.73L18.78,-39.02M22.70,-17.23L34.72,-25.88M34.72,-25.88L42.00,-40.14M-2.14,28.42L-32.28,28.86M-32.28,28.86L-46.46,34.88M-2.14,28.42L-16.08,40.20M-32.28,28.86L-39.25,42.84M-16.08,40.20L-17.37,55.44M18.78,-39.02L25.29,-52.31M25.29,-52.31L34.11,-64.43M34.11,-64.43L44.25,-75.72" stroke="#000" stroke-width="0.9" fill="none"/>
<path d="M-39.05,-18.71L-52.44,-25.01M42.00,-40.14L52.53,-50.55M52.53,-50.55L63.93,-60.03M-39.25,42.84L-50.27,52.79M-17.37,55.44L-21.80,69.56M-21.80,69.56L-25.93,83.78" stroke="#d00000" stroke-width="1.2" fill="none"/>
<circle cx="34.11" cy="-64.43" r="2.6" fill="#c8d018" stroke="#2a2a00" stroke-width="0.55"/>
<g stroke="#200" stroke-width="0.5">
<circle cx="-24.43" cy="-14.68" r="3.00" fill="#ee0000"/>
<circle cx="-39.05" cy="-18.71" r="2.88" fill="#ee0000"/>
<circle cx="-52.44" cy="-25.01" r="2.76" fill="#ee0000"/>
<circle cx="-28.86" cy="-32.28" r="2.88" fill="#ee0000"/>
<circle cx="-40.51" cy="-41.65" r="2.76" fill="#ee0000"/>
<circle cx="9.89" cy="-26.73" r="3.00" fill="#ee0000"/>
<circle cx="18.78" cy="-39.02" r="2.88" fill="#ee0000"/>
<circle cx="25.29" cy="-52.31" r="2.76" fill="#ee0000"/>
<circle cx="44.25" cy="-75.72" r="2.52" fill="#ee0000"/>
<circle cx="22.70" cy="-17.23" r="3.00" fill="#ee0000"/>
<circle cx="34.72" cy="-25.88" r="2.88" fill="#ee0000"/>
<circle cx="42.00" cy="-40.14" r="2.76" fill="#ee0000"/>
<circle cx="52.53" cy="-50.55" r="2.64" fill="#ee0000"/>
<circle cx="63.93" cy="-60.03" r="2.52" fill="#ee0000"/>
<circle cx="-16.08" cy="40.20" r="2.88" fill="#ee0000"/>
<circle cx="-39.25" cy="42.84" r="2.76" fill="#ee0000"/>
<circle cx="-50.27" cy="52.79" r="2.64" fill="#ee0000"/>
<circle cx="-17.37" cy="55.44" r="2.76" fill="#ee0000"/>
<circle cx="-21.80" cy="69.56" r="2.64" fill="#ee0000"/>
<circle cx="-2.14" cy="28.42" r="3.00" fill="#008000"/>
<circle cx="-32.28" cy="28.86" r="2.88" fill="#008000"/>
<circle cx="-46.46" cy="34.88" r="2.76" fill="#008000"/>
</g>
<g font-family="Liberation Sans, sans-serif">
<text x="0" y="0" transform="translate(-115.28,-70.64) rotate(301.5)" font-size="5.9" fill="#2a0a0a" stroke="#2a0a0a" stroke-width="0.12" text-anchor="middle" dominant-baseline="central" textLength="26.19" lengthAdjust="spacingAndGlyphs">Firmicutes</text>
<text x="0" y="0" transform="translate(48.67,-126.14) rotate(381.1)" font-size="5.9" fill="#2a0a0a" stroke="#2a0a0a" stroke-width="0.12" text-anchor="middle" dominant-baseline="central" textLength="33.87" lengthAdjust="spacingAndGlyphs">Bacteroidetes</text>
<text x="0" y="0" transform="translate(109.06,-80.41) rotate(413.6)" font-size="5.9" fill="#2a0a0a" stroke="#2a0a0a" stroke-width="0.12" text-anchor="middle" dominant-baseline="central" textLength="36.56" lengthAdjust="spacingAndGlyphs">Actinobacteria</text>
<text x="0" y="0" transform="translate(-11.97,136.78) rotate(185.0)" font-size="5.9" fill="#2a0a0a" stroke="#2a0a0a" stroke-width="0.12" text-anchor="middle" dominant-baseline="central" textLength="35.84" lengthAdjust="spacingAndGlyphs">Proteobacteria</text>
<text x="0" y="0" transform="translate(-113.03,-56.35) rotate(296.5)" font-size="5.6" fill="#1a0505" stroke="#1a0505" stroke-width="0.12" text-anchor="middle" dominant-baseline="central">i</text>
<text x="0" y="0" transform="translate(-104.26,-51.98) rotate(296.5)" font-size="5.6" fill="#1a0505" stroke="#1a0505" stroke-width="0.12" text-anchor="middle" dominant-baseline="central">h</text>
<text x="0" y="0" transform="translate(-82.53,-95.61) rotate(319.2)" font-size="5.6" fill="#1a0505" stroke="#1a0505" stroke-width="0.12" text-anchor="middle" dominant-baseline="central">g</text>
<text x="0" y="0" transform="translate(-80.63,-84.09) rotate(316.2)" font-size="5.6" fill="#1a0505" stroke="#1a0505" stroke-width="0.12" text-anchor="middle" dominant-baseline="central">f</text>
<text x="0" y="0" transform="translate(54.57,-113.90) rotate(385.6)" font-size="5.6" fill="#1a0505" stroke="#1a0505" stroke-width="0.12" text-anchor="middle" dominant-baseline="central">e</text>
<text x="0" y="0" transform="translate(50.34,-105.06) rotate(385.6)" font-size="5.6" fill="#1a0505" stroke="#1a0505" stroke-width="0.12" text-anchor="middle" dominant-baseline="central">d</text>
<text x="0" y="0" transform="translate(102.95,-73.16) rotate(414.6)" font-size="5.6" fill="#1a0505" stroke="#1a0505" stroke-width="0.12" text-anchor="middle" dominant-baseline="central">c</text>
<text x="0" y="0" transform="translate(-95.32,82.86) rotate(229.0)" font-size="5.6" fill="#1a0505" stroke="#1a0505" stroke-width="0.12" text-anchor="middle" dominant-baseline="central">m</text>
<text x="0" y="0" transform="translate(-95.08,67.32) rotate(234.7)" font-size="5.6" fill="#1a0505" stroke="#1a0505" stroke-width="0.12" text-anchor="middle" dominant-baseline="central">j</text>
<text x="0" y="0" transform="translate(-47.31,117.10) rotate(202.0)" font-size="5.6" fill="#1a0505" stroke="#1a0505" stroke-width="0.12" text-anchor="middle" dominant-baseline="central">p</text>
<text x="0" y="0" transform="translate(84.23,-80.49) rotate(406.3)" font-size="3.6" fill="#c00" stroke="#c00" stroke-width="0.12" text-anchor="middle" dominant-baseline="central">b</text>
<text x="0" y="0" transform="translate(77.36,-73.92) rotate(406.3)" font-size="3.6" fill="#c00" stroke="#c00" stroke-width="0.12" text-anchor="middle" dominant-baseline="central">a</text>
<text x="0" y="0" transform="translate(-79.75,84.92) rotate(223.2)" font-size="3.6" fill="#c00" stroke="#c00" stroke-width="0.12" text-anchor="middle" dominant-baseline="central">l</text>
<text x="0" y="0" transform="translate(-73.25,78.00) rotate(223.2)" font-size="3.6" fill="#c00" stroke="#c00" stroke-width="0.12" text-anchor="middle" dominant-baseline="central">k</text>
<text x="0" y="0" transform="translate(-36.00,110.80) rotate(198.0)" font-size="3.6" fill="#c00" stroke="#c00" stroke-width="0.12" text-anchor="middle" dominant-baseline="central">o</text>
<text x="0" y="0" transform="translate(-33.06,101.76) rotate(198.0)" font-size="3.6" fill="#c00" stroke="#c00" stroke-width="0.12" text-anchor="middle" dominant-baseline="central">n</text>
</g>
</g>
<rect x="339.9" y="28.40" width="11.8" height="3.5" fill="#e80000" stroke="#1a0000" stroke-width="0.9"/>
<text class="lt" x="355.7" y="31.90" font-size="5.8" textLength="59.10" lengthAdjust="spacingAndGlyphs">a: Bifidobacteriaceae</text>
<rect x="339.9" y="35.58" width="11.8" height="3.5" fill="#e80000" stroke="#1a0000" stroke-width="0.9"/>
<text class="lt" x="355.7" y="39.08" font-size="5.8" textLength="53.76" lengthAdjust="spacingAndGlyphs">b: Bifidobacteriales</text>
<rect x="339.9" y="42.76" width="11.8" height="3.5" fill="#e80000" stroke="#1a0000" stroke-width="0.9"/>
<text class="lt" x="355.7" y="46.26" font-size="5.8" textLength="47.03" lengthAdjust="spacingAndGlyphs">c: Actinobacteria</text>
<rect x="339.9" y="49.94" width="11.8" height="3.5" fill="#e80000" stroke="#1a0000" stroke-width="0.9"/>
<text class="lt" x="355.7" y="53.44" font-size="5.8" textLength="45.04" lengthAdjust="spacingAndGlyphs">d: Bacteroidales</text>
<rect x="339.9" y="57.12" width="11.8" height="3.5" fill="#e80000" stroke="#1a0000" stroke-width="0.9"/>
<text class="lt" x="355.7" y="60.62" font-size="5.8" textLength="38.61" lengthAdjust="spacingAndGlyphs">e: Bacteroidia</text>
<rect x="339.9" y="64.30" width="11.8" height="3.5" fill="#e80000" stroke="#1a0000" stroke-width="0.9"/>
<text class="lt" x="355.7" y="67.80" font-size="5.8" textLength="46.52" lengthAdjust="spacingAndGlyphs">f: Lactobacillales</text>
<rect x="339.9" y="71.48" width="11.8" height="3.5" fill="#e80000" stroke="#1a0000" stroke-width="0.9"/>
<text class="lt" x="355.7" y="74.98" font-size="5.8" textLength="23.67" lengthAdjust="spacingAndGlyphs">g: Bacilli</text>
<rect x="339.9" y="78.66" width="11.8" height="3.5" fill="#e80000" stroke="#1a0000" stroke-width="0.9"/>
<text class="lt" x="355.7" y="82.16" font-size="5.8" textLength="41.30" lengthAdjust="spacingAndGlyphs">h: Clostridiales</text>
<rect x="339.9" y="85.84" width="11.8" height="3.5" fill="#e80000" stroke="#1a0000" stroke-width="0.9"/>
<text class="lt" x="355.7" y="89.34" font-size="5.8" textLength="31.45" lengthAdjust="spacingAndGlyphs">i: Clostridia</text>
<rect x="339.9" y="93.02" width="11.8" height="3.5" fill="#007000" stroke="#1a0000" stroke-width="0.9"/>
<text class="lt" x="355.7" y="96.52" font-size="5.8" textLength="36.84" lengthAdjust="spacingAndGlyphs">j: Rhizobiales</text>
<rect x="339.9" y="100.20" width="11.8" height="3.5" fill="#e80000" stroke="#1a0000" stroke-width="0.9"/>
<text class="lt" x="355.7" y="103.70" font-size="5.8" textLength="57.33" lengthAdjust="spacingAndGlyphs">k: Acetobacteraceae</text>
<rect x="339.9" y="107.38" width="11.8" height="3.5" fill="#e80000" stroke="#1a0000" stroke-width="0.9"/>
<text class="lt" x="355.7" y="110.88" font-size="5.8" textLength="49.14" lengthAdjust="spacingAndGlyphs">l: Rhodospirillales</text>
<rect x="339.9" y="114.56" width="11.8" height="3.5" fill="#007000" stroke="#1a0000" stroke-width="0.9"/>
<text class="lt" x="355.7" y="118.06" font-size="5.8" textLength="65.93" lengthAdjust="spacingAndGlyphs">m: Alphaproteobacteria</text>
<rect x="339.9" y="121.74" width="11.8" height="3.5" fill="#e80000" stroke="#1a0000" stroke-width="0.9"/>
<text class="lt" x="355.7" y="125.24" font-size="5.8" textLength="46.13" lengthAdjust="spacingAndGlyphs">n: Neisseriaceae</text>
<rect x="339.9" y="128.92" width="11.8" height="3.5" fill="#e80000" stroke="#1a0000" stroke-width="0.9"/>
<text class="lt" x="355.7" y="132.42" font-size="5.8" textLength="40.54" lengthAdjust="spacingAndGlyphs">o: Neisseriales</text>
<rect x="339.9" y="136.10" width="11.8" height="3.5" fill="#e80000" stroke="#1a0000" stroke-width="0.9"/>
<text class="lt" x="355.7" y="139.60" font-size="5.8" textLength="61.06" lengthAdjust="spacingAndGlyphs">p: Betaproteobacteria</text>
<line x1="454.20" y1="42.2" x2="454.20" y2="273" stroke="#000" stroke-width="0.7" stroke-dasharray="1,1.7" stroke-opacity="0.7"/>
<line x1="454.20" y1="42.2" x2="454.20" y2="46.2" stroke="#000" stroke-width="0.7"/>
<line x1="454.20" y1="273" x2="454.20" y2="277.6" stroke="#000" stroke-width="0.7"/>
<text class="lt2" x="456.00" y="288.6" font-size="9.4" text-anchor="middle" textLength="25.37" lengthAdjust="spacingAndGlyphs">−6.0</text>
<line x1="485.65" y1="42.2" x2="485.65" y2="273" stroke="#000" stroke-width="0.7" stroke-dasharray="1,1.7" stroke-opacity="0.7"/>
<line x1="485.65" y1="42.2" x2="485.65" y2="46.2" stroke="#000" stroke-width="0.7"/>
<line x1="485.65" y1="273" x2="485.65" y2="277.6" stroke="#000" stroke-width="0.7"/>
<text class="lt2" x="487.45" y="288.6" font-size="9.4" text-anchor="middle" textLength="25.37" lengthAdjust="spacingAndGlyphs">−4.8</text>
<line x1="517.10" y1="42.2" x2="517.10" y2="273" stroke="#000" stroke-width="0.7" stroke-dasharray="1,1.7" stroke-opacity="0.7"/>
<line x1="517.10" y1="42.2" x2="517.10" y2="46.2" stroke="#000" stroke-width="0.7"/>
<line x1="517.10" y1="273" x2="517.10" y2="277.6" stroke="#000" stroke-width="0.7"/>
<text class="lt2" x="518.90" y="288.6" font-size="9.4" text-anchor="middle" textLength="25.37" lengthAdjust="spacingAndGlyphs">−3.6</text>
<line x1="548.55" y1="42.2" x2="548.55" y2="273" stroke="#000" stroke-width="0.7" stroke-dasharray="1,1.7" stroke-opacity="0.7"/>
<line x1="548.55" y1="42.2" x2="548.55" y2="46.2" stroke="#000" stroke-width="0.7"/>
<line x1="548.55" y1="273" x2="548.55" y2="277.6" stroke="#000" stroke-width="0.7"/>
<text class="lt2" x="550.35" y="288.6" font-size="9.4" text-anchor="middle" textLength="25.37" lengthAdjust="spacingAndGlyphs">−2.4</text>
<line x1="580.00" y1="42.2" x2="580.00" y2="273" stroke="#000" stroke-width="0.7" stroke-dasharray="1,1.7" stroke-opacity="0.7"/>
<line x1="580.00" y1="42.2" x2="580.00" y2="46.2" stroke="#000" stroke-width="0.7"/>
<line x1="580.00" y1="273" x2="580.00" y2="277.6" stroke="#000" stroke-width="0.7"/>
<text class="lt2" x="581.80" y="288.6" font-size="9.4" text-anchor="middle" textLength="25.37" lengthAdjust="spacingAndGlyphs">−1.2</text>
<line x1="611.45" y1="42.2" x2="611.45" y2="273" stroke="#000" stroke-width="0.7" stroke-dasharray="1,1.7" stroke-opacity="0.7"/>
<line x1="611.45" y1="42.2" x2="611.45" y2="46.2" stroke="#000" stroke-width="0.7"/>
<line x1="611.45" y1="273" x2="611.45" y2="277.6" stroke="#000" stroke-width="0.7"/>
<text class="lt2" x="612.35" y="288.6" font-size="9.4" text-anchor="middle" textLength="16.62" lengthAdjust="spacingAndGlyphs">0.0</text>
<line x1="642.90" y1="42.2" x2="642.90" y2="273" stroke="#000" stroke-width="0.7" stroke-dasharray="1,1.7" stroke-opacity="0.7"/>
<line x1="642.90" y1="42.2" x2="642.90" y2="46.2" stroke="#000" stroke-width="0.7"/>
<line x1="642.90" y1="273" x2="642.90" y2="277.6" stroke="#000" stroke-width="0.7"/>
<text class="lt2" x="643.80" y="288.6" font-size="9.4" text-anchor="middle" textLength="16.62" lengthAdjust="spacingAndGlyphs">1.2</text>
<line x1="674.35" y1="42.2" x2="674.35" y2="273" stroke="#000" stroke-width="0.7" stroke-dasharray="1,1.7" stroke-opacity="0.7"/>
<line x1="674.35" y1="42.2" x2="674.35" y2="46.2" stroke="#000" stroke-width="0.7"/>
<line x1="674.35" y1="273" x2="674.35" y2="277.6" stroke="#000" stroke-width="0.7"/>
<text class="lt2" x="675.25" y="288.6" font-size="9.4" text-anchor="middle" textLength="16.62" lengthAdjust="spacingAndGlyphs">2.4</text>
<line x1="705.80" y1="42.2" x2="705.80" y2="273" stroke="#000" stroke-width="0.7" stroke-dasharray="1,1.7" stroke-opacity="0.7"/>
<line x1="705.80" y1="42.2" x2="705.80" y2="46.2" stroke="#000" stroke-width="0.7"/>
<line x1="705.80" y1="273" x2="705.80" y2="277.6" stroke="#000" stroke-width="0.7"/>
<text class="lt2" x="706.70" y="288.6" font-size="9.4" text-anchor="middle" textLength="16.62" lengthAdjust="spacingAndGlyphs">3.6</text>
<line x1="737.25" y1="42.2" x2="737.25" y2="273" stroke="#000" stroke-width="0.7" stroke-dasharray="1,1.7" stroke-opacity="0.7"/>
<line x1="737.25" y1="42.2" x2="737.25" y2="46.2" stroke="#000" stroke-width="0.7"/>
<line x1="737.25" y1="273" x2="737.25" y2="277.6" stroke="#000" stroke-width="0.7"/>
<text class="lt2" x="738.15" y="288.6" font-size="9.4" text-anchor="middle" textLength="16.62" lengthAdjust="spacingAndGlyphs">4.8</text>
<line x1="768.70" y1="42.2" x2="768.70" y2="273" stroke="#000" stroke-width="0.7" stroke-dasharray="1,1.7" stroke-opacity="0.7"/>
<line x1="768.70" y1="42.2" x2="768.70" y2="46.2" stroke="#000" stroke-width="0.7"/>
<line x1="768.70" y1="273" x2="768.70" y2="277.6" stroke="#000" stroke-width="0.7"/>
<text class="lt2" x="769.60" y="288.6" font-size="9.4" text-anchor="middle" textLength="16.62" lengthAdjust="spacingAndGlyphs">6.0</text>
<rect x="611.45" y="48.30" width="133.25" height="8.4" fill="#008000" stroke="#2a0000" stroke-width="0.85"/>
<text class="lt2" x="608.65" y="55.90" font-size="6.3" text-anchor="end" textLength="35.11" lengthAdjust="spacingAndGlyphs">Rhizobiales</text>
<rect x="611.45" y="58.57" width="131.15" height="8.4" fill="#008000" stroke="#2a0000" stroke-width="0.85"/>
<text class="lt2" x="608.65" y="66.17" font-size="6.3" text-anchor="end" textLength="63.10" lengthAdjust="spacingAndGlyphs">Alphaproteobacteria</text>
<rect x="611.45" y="68.84" width="128.15" height="8.4" fill="#008000" stroke="#2a0000" stroke-width="0.85"/>
<text class="lt2" x="608.65" y="76.44" font-size="6.3" text-anchor="end" textLength="45.20" lengthAdjust="spacingAndGlyphs">Proteobacteria</text>
<rect x="506.40" y="79.11" width="105.05" height="8.4" fill="#ff0000" stroke="#2a0000" stroke-width="0.85"/>
<text class="lt2" x="614.85" y="86.71" font-size="6.3" textLength="36.50" lengthAdjust="spacingAndGlyphs">Bacteroides</text>
<rect x="502.70" y="89.38" width="108.75" height="8.4" fill="#ff0000" stroke="#2a0000" stroke-width="0.85"/>
<text class="lt2" x="614.85" y="96.98" font-size="6.3" textLength="42.72" lengthAdjust="spacingAndGlyphs">Bacteroidetes</text>
<rect x="502.70" y="99.65" width="108.75" height="8.4" fill="#ff0000" stroke="#2a0000" stroke-width="0.85"/>
<text class="lt2" x="614.85" y="107.25" font-size="6.3" textLength="34.99" lengthAdjust="spacingAndGlyphs">Bacteroidia</text>
<rect x="502.30" y="109.92" width="109.15" height="8.4" fill="#ff0000" stroke="#2a0000" stroke-width="0.85"/>
<text class="lt2" x="614.85" y="117.52" font-size="6.3" textLength="42.01" lengthAdjust="spacingAndGlyphs">Bacteroidales</text>
<rect x="501.10" y="120.19" width="110.35" height="8.4" fill="#ff0000" stroke="#2a0000" stroke-width="0.85"/>
<text class="lt2" x="614.85" y="127.79" font-size="6.3" textLength="29.14" lengthAdjust="spacingAndGlyphs">Clostridia</text>
<rect x="500.20" y="130.46" width="111.25" height="8.4" fill="#ff0000" stroke="#2a0000" stroke-width="0.85"/>
<text class="lt2" x="614.85" y="138.06" font-size="6.3" textLength="37.87" lengthAdjust="spacingAndGlyphs">Clostridiales</text>
<rect x="499.10" y="140.73" width="112.35" height="8.4" fill="#ff0000" stroke="#2a0000" stroke-width="0.85"/>
<text class="lt2" x="614.85" y="148.33" font-size="6.3" textLength="45.62" lengthAdjust="spacingAndGlyphs">Lactobacillales</text>
<rect x="498.90" y="151.00" width="112.55" height="8.4" fill="#ff0000" stroke="#2a0000" stroke-width="0.85"/>
<text class="lt2" x="614.85" y="158.60" font-size="6.3" textLength="18.30" lengthAdjust="spacingAndGlyphs">Bacilli</text>
<rect x="497.10" y="161.27" width="114.35" height="8.4" fill="#ff0000" stroke="#2a0000" stroke-width="0.85"/>
<text class="lt2" x="614.85" y="168.87" font-size="6.3" textLength="44.74" lengthAdjust="spacingAndGlyphs">Actinobacteria</text>
<rect x="495.70" y="171.54" width="115.75" height="8.4" fill="#ff0000" stroke="#2a0000" stroke-width="0.85"/>
<text class="lt2" x="614.85" y="179.14" font-size="6.3" textLength="51.68" lengthAdjust="spacingAndGlyphs">Bifidobacteriales</text>
<rect x="495.70" y="181.81" width="115.75" height="8.4" fill="#ff0000" stroke="#2a0000" stroke-width="0.85"/>
<text class="lt2" x="614.85" y="189.41" font-size="6.3" textLength="49.09" lengthAdjust="spacingAndGlyphs">Bifidobacterium</text>
<rect x="495.70" y="192.08" width="115.75" height="8.4" fill="#ff0000" stroke="#2a0000" stroke-width="0.85"/>
<text class="lt2" x="614.85" y="199.68" font-size="6.3" textLength="57.74" lengthAdjust="spacingAndGlyphs">Bifidobacteriaceae</text>
<rect x="495.20" y="202.35" width="116.25" height="8.4" fill="#ff0000" stroke="#2a0000" stroke-width="0.85"/>
<text class="lt2" x="614.85" y="209.95" font-size="6.3" textLength="44.74" lengthAdjust="spacingAndGlyphs">Actinobacteria</text>
<rect x="494.30" y="212.62" width="117.15" height="8.4" fill="#ff0000" stroke="#2a0000" stroke-width="0.85"/>
<text class="lt2" x="614.85" y="220.22" font-size="6.3" textLength="48.77" lengthAdjust="spacingAndGlyphs">Rhodospirillales</text>
<rect x="494.00" y="222.89" width="117.45" height="8.4" fill="#ff0000" stroke="#2a0000" stroke-width="0.85"/>
<text class="lt2" x="614.85" y="230.49" font-size="6.3" textLength="55.99" lengthAdjust="spacingAndGlyphs">Acetobacteraceae</text>
<rect x="492.70" y="233.16" width="118.75" height="8.4" fill="#ff0000" stroke="#2a0000" stroke-width="0.85"/>
<text class="lt2" x="614.85" y="240.76" font-size="6.3" textLength="59.78" lengthAdjust="spacingAndGlyphs">Betaproteobacteria</text>
<rect x="491.30" y="243.43" width="120.15" height="8.4" fill="#ff0000" stroke="#2a0000" stroke-width="0.85"/>
<text class="lt2" x="614.85" y="251.03" font-size="6.3" textLength="43.23" lengthAdjust="spacingAndGlyphs">Neisseriaceae</text>
<rect x="490.50" y="253.70" width="120.95" height="8.4" fill="#ff0000" stroke="#2a0000" stroke-width="0.85"/>
<text class="lt2" x="614.85" y="261.30" font-size="6.3" textLength="37.16" lengthAdjust="spacingAndGlyphs">Neisseriales</text>
<rect x="488.60" y="263.97" width="122.85" height="8.4" fill="#ff0000" stroke="#2a0000" stroke-width="0.85"/>
<text class="lt2" x="614.85" y="271.57" font-size="6.3" textLength="31.74" lengthAdjust="spacingAndGlyphs">Firmicutes</text>
<line x1="642.90" y1="48.80" x2="642.90" y2="56.20" stroke="#000" stroke-width="0.8" stroke-opacity="0.3"/>
<line x1="674.35" y1="48.80" x2="674.35" y2="56.20" stroke="#000" stroke-width="0.8" stroke-opacity="0.3"/>
<line x1="705.80" y1="48.80" x2="705.80" y2="56.20" stroke="#000" stroke-width="0.8" stroke-opacity="0.3"/>
<line x1="737.25" y1="48.80" x2="737.25" y2="56.20" stroke="#000" stroke-width="0.8" stroke-opacity="0.3"/>
<line x1="642.90" y1="59.07" x2="642.90" y2="66.47" stroke="#000" stroke-width="0.8" stroke-opacity="0.3"/>
<line x1="674.35" y1="59.07" x2="674.35" y2="66.47" stroke="#000" stroke-width="0.8" stroke-opacity="0.3"/>
<line x1="705.80" y1="59.07" x2="705.80" y2="66.47" stroke="#000" stroke-width="0.8" stroke-opacity="0.3"/>
<line x1="737.25" y1="59.07" x2="737.25" y2="66.47" stroke="#000" stroke-width="0.8" stroke-opacity="0.3"/>
<line x1="642.90" y1="69.34" x2="642.90" y2="76.74" stroke="#000" stroke-width="0.8" stroke-opacity="0.3"/>
<line x1="674.35" y1="69.34" x2="674.35" y2="76.74" stroke="#000" stroke-width="0.8" stroke-opacity="0.3"/>
<line x1="705.80" y1="69.34" x2="705.80" y2="76.74" stroke="#000" stroke-width="0.8" stroke-opacity="0.3"/>
<line x1="737.25" y1="69.34" x2="737.25" y2="76.74" stroke="#000" stroke-width="0.8" stroke-opacity="0.3"/>
<line x1="517.10" y1="79.61" x2="517.10" y2="87.01" stroke="#000" stroke-width="0.8" stroke-opacity="0.3"/>
<line x1="548.55" y1="79.61" x2="548.55" y2="87.01" stroke="#000" stroke-width="0.8" stroke-opacity="0.3"/>
<line x1="580.00" y1="79.61" x2="580.00" y2="87.01" stroke="#000" stroke-width="0.8" stroke-opacity="0.3"/>
<line x1="517.10" y1="89.88" x2="517.10" y2="97.28" stroke="#000" stroke-width="0.8" stroke-opacity="0.3"/>
<line x1="548.55" y1="89.88" x2="548.55" y2="97.28" stroke="#000" stroke-width="0.8" stroke-opacity="0.3"/>
<line x1="580.00" y1="89.88" x2="580.00" y2="97.28" stroke="#000" stroke-width="0.8" stroke-opacity="0.3"/>
<line x1="517.10" y1="100.15" x2="517.10" y2="107.55" stroke="#000" stroke-width="0.8" stroke-opacity="0.3"/>
<line x1="548.55" y1="100.15" x2="548.55" y2="107.55" stroke="#000" stroke-width="0.8" stroke-opacity="0.3"/>
<line x1="580.00" y1="100.15" x2="580.00" y2="107.55" stroke="#000" stroke-width="0.8" stroke-opacity="0.3"/>
<line x1="517.10" y1="110.42" x2="517.10" y2="117.82" stroke="#000" stroke-width="0.8" stroke-opacity="0.3"/>
<line x1="548.55" y1="110.42" x2="548.55" y2="117.82" stroke="#000" stroke-width="0.8" stroke-opacity="0.3"/>
<line x1="580.00" y1="110.42" x2="580.00" y2="117.82" stroke="#000" stroke-width="0.8" stroke-opacity="0.3"/>
<line x1="517.10" y1="120.69" x2="517.10" y2="128.09" stroke="#000" stroke-width="0.8" stroke-opacity="0.3"/>
<line x1="548.55" y1="120.69" x2="548.55" y2="128.09" stroke="#000" stroke-width="0.8" stroke-opacity="0.3"/>
<line x1="580.00" y1="120.69" x2="580.00" y2="128.09" stroke="#000" stroke-width="0.8" stroke-opacity="0.3"/>
<line x1="517.10" y1="130.96" x2="517.10" y2="138.36" stroke="#000" stroke-width="0.8" stroke-opacity="0.3"/>
<line x1="548.55" y1="130.96" x2="548.55" y2="138.36" stroke="#000" stroke-width="0.8" stroke-opacity="0.3"/>
<line x1="580.00" y1="130.96" x2="580.00" y2="138.36" stroke="#000" stroke-width="0.8" stroke-opacity="0.3"/>
<line x1="517.10" y1="141.23" x2="517.10" y2="148.63" stroke="#000" stroke-width="0.8" stroke-opacity="0.3"/>
<line x1="548.55" y1="141.23" x2="548.55" y2="148.63" stroke="#000" stroke-width="0.8" stroke-opacity="0.3"/>
<line x1="580.00" y1="141.23" x2="580.00" y2="148.63" stroke="#000" stroke-width="0.8" stroke-opacity="0.3"/>
<line x1="517.10" y1="151.50" x2="517.10" y2="158.90" stroke="#000" stroke-width="0.8" stroke-opacity="0.3"/>
<line x1="548.55" y1="151.50" x2="548.55" y2="158.90" stroke="#000" stroke-width="0.8" stroke-opacity="0.3"/>
<line x1="580.00" y1="151.50" x2="580.00" y2="158.90" stroke="#000" stroke-width="0.8" stroke-opacity="0.3"/>
<line x1="517.10" y1="161.77" x2="517.10" y2="169.17" stroke="#000" stroke-width="0.8" stroke-opacity="0.3"/>
<line x1="548.55" y1="161.77" x2="548.55" y2="169.17" stroke="#000" stroke-width="0.8" stroke-opacity="0.3"/>
<line x1="580.00" y1="161.77" x2="580.00" y2="169.17" stroke="#000" stroke-width="0.8" stroke-opacity="0.3"/>
<line x1="517.10" y1="172.04" x2="517.10" y2="179.44" stroke="#000" stroke-width="0.8" stroke-opacity="0.3"/>
<line x1="548.55" y1="172.04" x2="548.55" y2="179.44" stroke="#000" stroke-width="0.8" stroke-opacity="0.3"/>
<line x1="580.00" y1="172.04" x2="580.00" y2="179.44" stroke="#000" stroke-width="0.8" stroke-opacity="0.3"/>
<line x1="517.10" y1="182.31" x2="517.10" y2="189.71" stroke="#000" stroke-width="0.8" stroke-opacity="0.3"/>
<line x1="548.55" y1="182.31" x2="548.55" y2="189.71" stroke="#000" stroke-width="0.8" stroke-opacity="0.3"/>
<line x1="580.00" y1="182.31" x2="580.00" y2="189.71" stroke="#000" stroke-width="0.8" stroke-opacity="0.3"/>
<line x1="517.10" y1="192.58" x2="517.10" y2="199.98" stroke="#000" stroke-width="0.8" stroke-opacity="0.3"/>
<line x1="548.55" y1="192.58" x2="548.55" y2="199.98" stroke="#000" stroke-width="0.8" stroke-opacity="0.3"/>
<line x1="580.00" y1="192.58" x2="580.00" y2="199.98" stroke="#000" stroke-width="0.8" stroke-opacity="0.3"/>
<line x1="517.10" y1="202.85" x2="517.10" y2="210.25" stroke="#000" stroke-width="0.8" stroke-opacity="0.3"/>
<line x1="548.55" y1="202.85" x2="548.55" y2="210.25" stroke="#000" stroke-width="0.8" stroke-opacity="0.3"/>
<line x1="580.00" y1="202.85" x2="580.00" y2="210.25" stroke="#000" stroke-width="0.8" stroke-opacity="0.3"/>
<line x1="517.10" y1="213.12" x2="517.10" y2="220.52" stroke="#000" stroke-width="0.8" stroke-opacity="0.3"/>
<line x1="548.55" y1="213.12" x2="548.55" y2="220.52" stroke="#000" stroke-width="0.8" stroke-opacity="0.3"/>
<line x1="580.00" y1="213.12" x2="580.00" y2="220.52" stroke="#000" stroke-width="0.8" stroke-opacity="0.3"/>
<line x1="517.10" y1="223.39" x2="517.10" y2="230.79" stroke="#000" stroke-width="0.8" stroke-opacity="0.3"/>
<line x1="548.55" y1="223.39" x2="548.55" y2="230.79" stroke="#000" stroke-width="0.8" stroke-opacity="0.3"/>
<line x1="580.00" y1="223.39" x2="580.00" y2="230.79" stroke="#000" stroke-width="0.8" stroke-opacity="0.3"/>
<line x1="517.10" y1="233.66" x2="517.10" y2="241.06" stroke="#000" stroke-width="0.8" stroke-opacity="0.3"/>
<line x1="548.55" y1="233.66" x2="548.55" y2="241.06" stroke="#000" stroke-width="0.8" stroke-opacity="0.3"/>
<line x1="580.00" y1="233.66" x2="580.00" y2="241.06" stroke="#000" stroke-width="0.8" stroke-opacity="0.3"/>
<line x1="517.10" y1="243.93" x2="517.10" y2="251.33" stroke="#000" stroke-width="0.8" stroke-opacity="0.3"/>
<line x1="548.55" y1="243.93" x2="548.55" y2="251.33" stroke="#000" stroke-width="0.8" stroke-opacity="0.3"/>
<line x1="580.00" y1="243.93" x2="580.00" y2="251.33" stroke="#000" stroke-width="0.8" stroke-opacity="0.3"/>
<line x1="517.10" y1="254.20" x2="517.10" y2="261.60" stroke="#000" stroke-width="0.8" stroke-opacity="0.3"/>
<line x1="548.55" y1="254.20" x2="548.55" y2="261.60" stroke="#000" stroke-width="0.8" stroke-opacity="0.3"/>
<line x1="580.00" y1="254.20" x2="580.00" y2="261.60" stroke="#000" stroke-width="0.8" stroke-opacity="0.3"/>
<line x1="517.10" y1="264.47" x2="517.10" y2="271.87" stroke="#000" stroke-width="0.8" stroke-opacity="0.3"/>
<line x1="548.55" y1="264.47" x2="548.55" y2="271.87" stroke="#000" stroke-width="0.8" stroke-opacity="0.3"/>
<line x1="580.00" y1="264.47" x2="580.00" y2="271.87" stroke="#000" stroke-width="0.8" stroke-opacity="0.3"/>
<text class="lt2" x="559.2" y="302.3" font-size="9.8" textLength="106.1" lengthAdjust="spacingAndGlyphs">LDA SCORE (log 10)</text>
</svg>
</body></html>
